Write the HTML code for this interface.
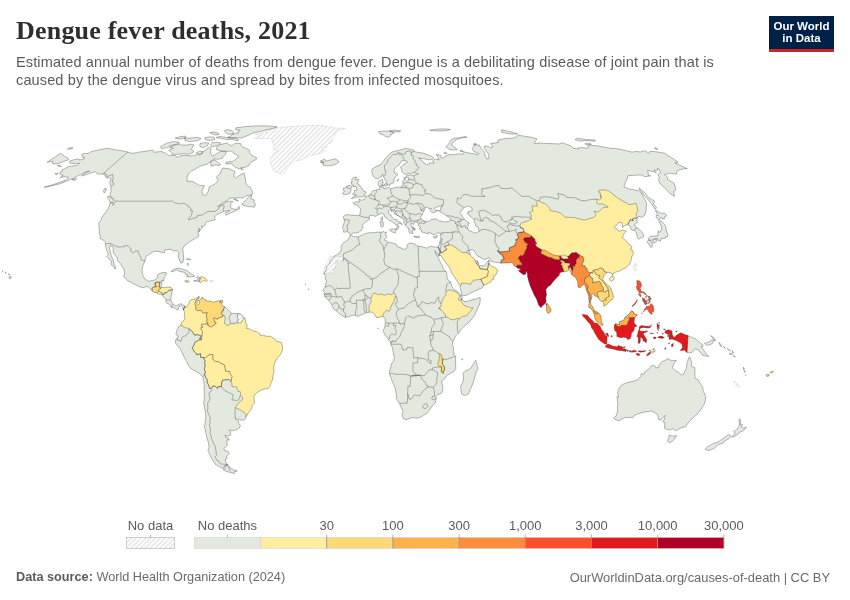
<!DOCTYPE html>
<html><head><meta charset="utf-8"><title>Dengue fever deaths, 2021</title>
<style>
html,body{margin:0;padding:0;background:#fff;}
body{width:850px;height:600px;position:relative;overflow:hidden;font-family:"Liberation Sans",sans-serif;color:#5b5b5b;}
.abs{position:absolute;white-space:nowrap;}
#title{left:16px;top:15.5px;font-family:"Liberation Serif",serif;font-weight:bold;font-size:26px;color:#2e2e2e;letter-spacing:0.2px;}
#sub{left:16px;top:52.7px;font-size:14.5px;line-height:18px;letter-spacing:0.135px;color:#5b5b5b;}
#logo{left:769px;top:16px;width:65px;height:33px;background:#002147;border-bottom:3px solid #ce261e;color:#fff;font-weight:bold;font-size:11.5px;line-height:11.5px;text-align:center;}
#logo span{display:block;}
.lg{font-size:13px;color:#5b5b5b;transform:translateX(-50%);top:518px;}
#src{left:16px;top:569.5px;font-size:12.7px;color:#6a6a6a;}
#src b{color:#5b5b5b;}
#url{right:20px;top:569.5px;font-size:12.9px;color:#6a6a6a;}
</style></head><body>
<svg width="850" height="600" viewBox="0 0 850 600" style="position:absolute;left:0;top:0">
<defs>
<pattern id="hatch" patternUnits="userSpaceOnUse" width="3.4" height="3.4" patternTransform="rotate(45)"><rect width="3.4" height="3.4" fill="#fff"/><line x1="0.8" y1="0" x2="0.8" y2="3.4" stroke="#e4e4e4" stroke-width="1.4"/></pattern>
<clipPath id="landclip"><path d="M107.3 148.3L113.1 149.4L118.5 150.2L123.9 151.1L127.8 152.0L132.6 153.5L137.3 152.4L145.2 151.3L151.5 150.2L152.6 150.0L154.2 152.2L161.6 151.5L166.2 153.5L168.4 155.5L175.8 155.7L177.4 157.7L181.1 155.5L186.2 155.5L192.6 155.9L197.4 154.4L200.2 155.1L202.6 152.2L209.7 147.0L211.2 148.9L210.3 152.0L211.2 153.9L212.7 156.4L216.1 154.2L220.6 151.5L226.3 151.7L225.5 154.4L222.8 156.6L222.6 158.2L218.4 159.3L214.0 158.9L210.7 161.6L207.2 164.1L201.2 165.8L197.8 167.4L192.9 170.5L191.0 171.4L188.4 174.0L187.2 176.9L187.0 181.3L192.3 181.3L196.5 183.7L199.4 185.4L204.4 185.7L201.8 191.1L202.6 194.2L203.0 195.4L206.2 194.9L208.4 191.1L209.2 186.9L215.6 183.7L218.2 180.5L216.4 176.9L219.9 174.0L222.3 168.3L223.3 168.1L229.2 168.8L232.1 170.2L235.0 171.6L233.5 176.4L235.6 177.9L241.2 174.3L244.2 173.3L245.4 178.8L245.7 182.5L247.3 185.7L250.5 187.4L251.6 189.9L253.0 193.1L250.8 194.9L246.6 195.7L242.8 197.9L234.8 197.9L229.7 198.2L226.9 200.5L223.1 202.5L217.6 206.6L222.5 204.3L227.6 201.2L233.0 201.5L230.8 203.8L230.4 206.3L231.3 208.4L236.1 209.6L239.1 206.3L239.6 208.9L232.2 212.2L226.1 215.3L225.3 213.2L229.7 210.4L225.3 211.2L224.0 211.4L220.5 213.2L216.9 214.5L214.7 216.8L214.5 217.6L215.3 219.7L212.5 220.5L207.2 221.7L205.8 222.8L205.1 225.1L202.7 226.9L201.8 225.6L201.9 228.2L199.1 231.9L199.1 228.2L198.2 232.1L198.7 236.6L195.7 238.1L192.3 240.2L189.2 242.1L184.4 245.7L182.7 249.1L183.4 254.3L183.7 258.8L182.6 262.7L180.7 263.2L179.6 260.4L178.1 256.2L179.0 253.0L177.3 250.7L176.0 250.4L173.6 251.2L171.4 249.4L168.0 249.4L164.6 249.9L164.6 252.8L161.8 252.5L158.7 251.5L154.7 251.2L152.3 252.3L149.1 254.3L146.0 256.4L145.0 261.0L142.7 266.1L142.0 270.5L142.5 274.5L144.4 278.4L146.9 280.2L148.1 281.3L151.9 280.5L154.2 280.2L156.9 278.4L158.1 274.5L158.4 273.9L162.7 272.6L166.1 272.6L166.3 274.5L164.3 277.3L163.4 281.0L162.3 280.5L161.8 282.8L161.7 285.7L159.9 287.3L160.5 287.8L162.6 287.3L166.5 287.3L168.8 287.1L171.1 287.4L172.7 289.6L171.6 293.5L171.1 296.7L170.7 300.1L172.1 302.7L173.2 304.0L175.4 305.7L177.7 305.0L180.1 303.9L182.3 304.1L184.8 306.1L183.4 310.0L182.6 307.6L181.1 305.5L179.2 306.6L178.0 307.4L178.6 309.2L176.5 309.7L175.2 308.4L173.7 307.4L172.0 307.6L170.7 306.6L170.3 305.3L168.1 303.5L167.2 303.7L165.7 301.6L166.1 299.8L164.2 297.4L162.3 295.1L162.6 294.3L160.1 294.3L157.2 293.3L156.6 292.7L154.1 292.4L152.0 290.8L148.5 287.0L146.5 286.5L142.5 287.8L139.2 286.5L135.1 284.6L131.1 282.3L127.5 280.7L125.8 278.6L123.6 276.5L124.6 273.4L124.1 269.5L122.1 266.4L119.9 263.0L117.7 260.9L117.2 258.0L115.4 255.6L113.4 253.0L113.1 248.3L113.0 247.0L110.2 245.7L109.5 247.8L110.5 253.0L111.4 256.2L113.2 260.1L114.1 264.0L114.9 265.6L116.0 267.9L114.8 269.0L114.3 267.4L111.0 264.5L111.4 260.9L109.0 258.8L106.5 256.2L108.6 254.3L106.4 250.4L105.7 246.0L105.5 243.9L105.6 242.6L103.9 240.5L102.5 239.6L100.1 238.7L100.4 236.8L99.3 233.2L99.4 230.1L99.0 228.8L98.9 225.4L98.7 223.3L101.3 219.7L101.9 217.1L105.3 212.7L108.4 208.4L110.3 202.7L113.4 203.2L112.9 205.5L114.7 203.0L115.1 201.2L114.8 200.5L113.1 198.2L110.0 196.4L110.1 194.2L111.1 191.1L110.8 187.9L111.2 186.7L110.4 185.0L109.7 182.5L111.2 178.8L109.5 177.6L106.9 178.4L105.7 177.2L104.7 175.0L102.9 174.0L98.3 174.0L96.5 173.1L95.3 171.6L89.8 173.3L86.7 174.5L81.4 175.9L85.4 172.8L89.5 171.2L86.2 171.6L81.7 174.0L78.0 175.7L74.0 178.1L67.2 180.8L60.3 183.7L54.8 185.0L48.1 186.7L44.1 187.2L49.2 185.7L54.8 184.0L61.0 181.8L65.7 180.1L68.7 177.4L67.3 176.9L64.0 176.9L60.3 177.4L63.2 175.2L60.3 174.5L59.5 172.8L62.5 171.2L61.5 170.2L66.2 167.9L68.6 166.7L73.4 165.8L76.3 165.5L79.6 163.2L76.4 163.4L72.8 163.4L69.9 163.0L69.9 160.9L74.5 159.6L78.9 158.9L79.1 159.8L82.0 159.8L84.8 158.0L82.5 157.5L83.5 156.2L82.2 155.3L81.4 154.6L83.9 153.5L88.4 153.3L91.8 151.5L96.7 150.4L101.6 149.4Z M235.4 143.2L240.6 143.6L241.1 145.1L242.7 147.2L246.7 148.5L249.6 150.4L249.7 152.8L251.1 154.8L256.4 157.7L256.4 159.3L250.5 162.3L248.9 165.5L245.4 167.2L240.6 167.9L243.3 169.5L239.2 168.8L234.8 166.9L231.3 163.7L225.9 163.9L226.0 162.3L233.7 161.1L235.9 158.9L239.0 156.6L236.7 154.8L233.5 153.3L231.7 151.1L226.6 151.3L222.0 150.9L216.9 150.0L216.2 147.8L219.8 144.7L226.9 143.0L228.2 144.2L231.7 145.7Z M169.1 150.0L171.9 152.8L172.0 154.4L179.0 154.2L184.7 153.5L187.2 154.4L192.8 152.8L193.6 151.1L191.1 149.4L192.9 146.8L194.0 144.9L190.7 144.2L186.6 145.1L181.8 145.1L180.6 144.0L174.6 145.1L169.5 147.4L173.4 148.3Z M160.5 146.8L161.7 148.5L166.6 147.8L170.6 145.7L178.7 143.6L178.9 142.2L173.4 141.5L166.6 143.2Z M227.6 137.5L231.5 138.1L236.5 137.7L240.7 138.1L245.2 136.5L250.5 134.2L253.4 132.7L260.4 131.4L267.9 129.5L273.2 128.3L277.3 126.9L270.0 126.0L260.6 125.8L250.5 126.3L242.9 126.9L236.1 127.8L235.4 129.5L240.2 130.2L237.7 131.8L238.6 132.9L232.8 134.2L230.8 135.9Z M227.6 129.5L231.3 130.5L233.8 132.7L233.0 134.0L228.3 134.2L225.5 132.3L224.4 130.9Z M216.2 137.5L221.9 138.5L225.5 139.5L231.9 139.3L238.1 140.9L238.0 139.3L234.8 137.9L227.4 137.7L223.7 136.9L219.6 136.5Z M184.2 138.1L185.4 140.7L190.6 141.5L198.1 140.5L201.0 138.7L197.5 137.3L190.3 138.1Z M204.8 137.5L205.4 139.5L210.5 140.5L214.7 139.5L214.2 137.3L210.1 136.9Z M200.1 143.6L199.8 146.3L203.2 147.8L207.6 145.7L208.7 143.0L204.4 142.6Z M212.3 142.6L210.6 145.1L211.5 146.8L217.5 145.5L220.7 142.8L217.2 142.4Z M196.2 152.8L198.4 154.2L202.3 153.5L202.5 151.3L199.2 151.3Z M210.7 161.6L211.1 166.2L215.6 164.8L218.5 165.8L220.7 164.6L219.1 163.4L216.3 161.1L214.4 160.0Z M175.1 138.1L179.0 139.1L186.0 137.9L185.6 136.1L180.2 136.7Z M209.7 132.7L214.3 134.8L219.0 134.6L218.0 133.0L213.4 132.1Z M242.1 204.8L248.3 206.6L252.3 206.8L254.3 207.1L255.5 204.8L254.0 202.2L254.2 199.9L250.9 198.9L251.8 194.9L248.6 196.9L245.3 200.7L242.5 203.2Z M107.2 196.7L109.3 200.2L110.2 202.5L112.9 202.7L113.4 200.7L112.2 198.4L109.0 196.4Z M104.6 188.4L106.7 188.9L104.4 193.1L103.4 191.6Z M71.9 179.6L75.0 180.5L76.6 178.8L75.2 178.6Z M233.6 199.2L237.8 201.0L238.5 200.7L235.4 199.2Z M170.9 271.6L173.2 269.5L176.1 268.5L179.7 268.2L183.4 269.5L186.7 270.5L188.7 272.1L191.5 273.9L194.6 275.8L194.3 276.4L191.1 276.8L186.6 276.9L187.9 275.0L185.5 274.7L184.9 272.4L182.2 272.0L178.0 270.8L177.3 269.8L174.7 270.8L173.0 271.6Z M193.5 280.9L195.9 281.3L198.4 281.3L199.6 281.6L200.1 277.3L197.7 276.8L196.3 277.2L197.5 278.4L198.2 280.2L195.7 280.3Z M187.7 263.0L188.0 265.6L188.2 265.3L187.9 263.0Z M188.5 259.0L189.9 260.1L190.5 259.6L188.9 258.5Z M186.3 259.0L188.2 259.6L188.3 259.0L186.6 258.8Z M60.6 153.3L63.0 155.1L64.9 156.6L67.6 157.7L68.7 159.8L64.5 161.1L59.0 163.2L56.3 163.9L52.2 163.7L52.9 161.4L49.6 161.8L47.2 162.3Z M69.7 147.8L72.9 147.8L72.3 148.7L67.5 149.1Z M57.3 165.5L59.1 166.5L61.2 166.5L59.8 165.3Z M55.0 173.6L56.6 174.5L58.2 173.3Z M8.9 277.2L9.7 278.9L11.4 277.9L11.0 276.5L9.6 275.9Z M8.1 274.2L9.6 274.7L9.1 273.9Z M5.0 272.5L6.1 273.2L5.7 272.1Z M2.0 271.1L2.8 271.5L2.8 270.8Z M184.8 306.1L186.1 307.9L187.3 305.5L189.0 304.0L189.4 301.4L190.9 299.8L192.5 299.3L194.8 299.3L197.2 297.7L198.4 296.3L199.3 296.7L199.2 298.0L197.8 299.5L198.4 300.6L199.8 300.1L201.7 298.8L202.3 296.9L202.9 298.8L205.8 299.5L206.2 301.1L210.8 301.1L213.4 302.4L215.1 301.6L218.1 300.8L220.6 300.8L219.0 302.2L221.2 303.2L222.7 306.3L225.2 307.1L228.1 309.7L230.3 312.3L231.2 313.3L234.0 313.4L238.4 313.5L240.9 314.7L243.3 317.0L243.8 318.0L245.2 318.6L245.8 323.1L247.4 326.2L246.4 328.3L249.0 328.8L250.8 329.6L252.0 330.6L256.6 331.7L260.1 334.0L260.6 335.9L262.9 335.1L267.0 336.4L270.5 336.2L274.0 338.5L277.0 341.3L281.4 342.4L282.5 347.3L282.5 350.0L280.7 354.1L277.8 357.5L274.6 362.8L273.6 367.5L274.1 371.9L272.9 375.8L272.5 380.0L271.4 381.8L270.1 385.5L270.1 386.3L268.0 388.8L265.3 388.8L262.0 389.7L258.6 391.5L255.2 394.1L253.9 396.7L254.3 400.9L254.2 403.5L252.4 405.3L251.5 408.5L249.9 411.1L248.2 412.9L246.0 417.0L245.4 418.7L243.2 420.1L240.4 420.0L236.7 418.8L235.2 417.6L235.5 419.2L238.5 421.0L238.7 423.4L240.4 425.2L239.3 428.1L237.0 429.6L232.4 430.7L229.5 430.1L230.3 432.0L230.7 434.8L227.9 436.2L224.9 435.3L225.6 437.1L228.8 438.7L229.4 440.2L227.4 439.7L226.7 441.0L227.4 445.1L225.4 446.7L224.0 448.7L224.2 450.0L228.2 451.6L229.1 453.6L226.6 456.4L227.1 458.7L225.0 459.7L226.2 462.9L228.1 464.8L226.1 465.2L223.9 466.5L224.1 468.7L220.1 467.2L215.5 464.5L213.6 461.4L210.5 456.4L208.3 451.3L207.9 450.3L209.1 447.5L208.3 442.3L206.9 437.9L206.0 433.3L204.9 428.1L204.1 426.0L204.9 424.7L205.1 421.5L205.8 416.3L205.8 415.0L204.9 409.8L204.5 406.9L203.6 403.3L204.3 399.3L204.4 395.4L204.2 390.5L204.2 386.3L203.8 381.6L202.9 376.9L200.2 374.3L197.5 372.4L193.9 370.3L191.0 368.8L188.2 365.1L186.8 361.5L185.9 360.3L184.4 357.5L183.1 354.9L182.1 352.6L180.8 350.0L178.8 346.8L176.4 344.5L175.9 344.0L175.3 341.0L176.2 339.0L177.6 337.7L178.4 335.9L177.5 335.6L176.1 334.8L175.9 334.5L176.5 331.4L177.0 329.8L177.9 328.8L178.1 327.0L180.5 325.9L180.9 325.0L180.9 324.1L181.9 322.0L184.0 320.2L185.2 318.6L184.1 317.0L184.7 314.4L184.3 311.3L183.4 310.0Z M228.0 465.6L229.1 466.5L231.2 468.4L234.0 469.9L236.7 470.5L236.9 471.4L234.2 471.9L234.1 473.8L232.4 472.9L229.2 472.2L225.8 471.2L223.3 469.9L224.8 468.9L225.8 467.7L224.7 466.0L226.3 465.2Z M350.0 235.3L351.3 235.0L354.1 236.8L356.2 236.6L358.0 237.1L360.6 235.5L361.4 235.5L364.9 233.7L369.2 232.7L373.5 232.7L377.9 232.1L381.3 232.3L383.9 231.4L385.0 232.7L386.5 231.9L385.7 233.7L385.7 235.3L386.9 236.8L384.8 239.2L384.6 240.2L386.8 241.0L388.1 242.2L391.7 242.8L396.2 244.2L397.1 246.5L401.4 248.1L404.8 249.6L406.9 248.1L407.0 244.9L409.9 242.8L413.5 243.6L418.2 246.1L422.3 246.8L426.8 248.2L428.7 247.3L431.1 246.2L434.0 247.0L438.2 247.0L440.2 251.7L439.4 255.6L439.2 256.3L437.6 254.9L435.3 251.2L434.9 250.6L435.1 252.3L437.0 255.6L438.2 257.7L440.1 261.7L442.6 266.1L443.2 268.7L446.1 271.3L446.9 273.9L447.1 277.6L447.9 279.9L450.5 281.8L452.2 287.0L452.9 288.0L454.4 289.6L456.9 290.9L459.8 294.3L461.5 295.6L462.0 297.4L462.1 298.8L460.9 298.5L462.0 298.9L463.8 301.5L466.1 301.6L469.5 300.8L471.8 299.8L475.2 299.3L479.2 297.6L480.3 297.8L480.1 301.6L479.5 304.5L477.8 307.9L475.6 313.1L473.4 317.0L468.9 322.5L467.3 323.6L464.3 326.2L460.8 329.8L458.7 333.1L457.1 334.5L455.5 336.1L454.2 339.4L453.1 341.1L452.1 344.5L453.2 346.6L453.6 349.7L453.3 352.3L454.2 354.9L455.6 356.1L455.6 361.5L455.6 366.7L456.0 368.0L454.0 371.4L449.3 374.0L446.7 375.6L445.0 378.2L441.8 380.7L441.9 383.7L442.9 386.3L442.7 391.0L441.4 393.1L437.9 394.6L435.8 396.6L436.3 398.9L435.1 403.3L433.4 404.6L431.5 406.9L429.4 410.3L426.2 414.0L423.9 415.0L420.7 417.1L418.9 417.6L416.2 418.2L411.9 417.6L406.3 419.7L403.1 418.5L403.0 417.4L402.0 414.2L403.1 411.6L401.1 407.2L399.5 403.5L396.7 399.1L396.2 394.1L395.4 388.6L393.1 383.4L391.1 378.4L389.5 373.9L389.7 370.6L390.4 368.5L391.4 363.8L393.5 361.2L394.4 357.5L393.1 351.8L392.2 347.1L390.9 344.5L390.4 341.9L388.3 339.1L384.9 335.1L383.1 330.6L384.2 328.5L384.9 326.2L385.4 322.8L385.1 318.6L383.3 316.9L382.3 316.4L378.9 317.3L376.6 317.6L374.3 314.2L372.7 312.3L370.6 312.1L369.0 312.2L366.4 312.6L365.5 312.9L364.8 313.6L362.3 314.3L358.1 316.4L355.6 315.5L353.5 315.1L348.9 316.5L345.5 317.4L342.0 315.7L337.9 312.3L336.3 310.8L334.0 309.5L332.4 306.6L332.2 305.3L331.3 304.0L329.2 301.4L328.3 300.1L326.1 298.0L324.5 296.5L324.3 294.6L324.5 292.7L322.8 290.4L325.1 287.0L325.6 284.4L326.4 281.5L325.3 278.1L326.0 276.0L324.2 274.5L324.3 272.9L326.0 270.0L326.7 266.9L329.3 264.3L330.3 260.6L332.8 258.3L333.8 256.4L337.1 254.6L340.1 252.3L341.3 249.4L341.1 246.5L343.0 243.4L346.1 241.0L347.9 240.0L349.3 237.4Z M475.8 360.2L477.5 366.7L478.1 369.0L476.1 371.9L475.1 375.8L473.3 382.4L470.8 388.4L468.5 393.9L464.8 395.5L461.6 394.1L461.0 389.9L460.6 386.3L463.2 381.1L463.6 377.1L463.0 373.2L465.2 371.1L468.4 369.8L471.3 367.7L472.6 364.9L474.6 362.0Z M461.9 358.6L462.5 359.9L462.0 359.9Z M308.4 288.8L309.1 289.4L308.8 289.9Z M305.1 284.1L305.8 284.1L305.6 284.6Z M377.8 327.8L378.3 328.3L377.8 328.8Z M438.2 247.0L438.9 245.7L439.4 243.1L439.7 242.3L440.3 240.2L441.0 238.3L440.4 235.3L440.7 234.8L441.0 233.2L439.7 233.2L437.5 232.7L435.7 234.4L433.1 234.5L429.7 232.5L428.8 232.5L428.5 234.0L425.6 232.9L423.6 232.7L421.9 232.1L421.2 229.8L419.4 228.8L420.4 228.2L419.9 226.2L418.4 225.6L418.5 224.2L417.8 222.5L415.7 222.0L414.4 222.0L413.2 223.0L414.4 224.0L413.4 224.5L412.5 223.8L411.3 223.0L410.8 224.3L411.8 226.2L411.7 227.2L413.1 228.2L414.5 229.5L414.4 230.5L413.2 229.5L412.7 231.1L412.0 230.8L412.9 233.6L411.4 233.7L409.6 232.7L408.6 230.3L409.3 228.8L408.0 228.6L407.0 227.2L405.8 225.4L405.4 225.1L403.9 223.3L403.9 220.5L403.6 219.4L401.6 218.0L399.4 216.6L397.0 215.3L394.3 213.5L393.6 211.4L392.5 210.7L391.5 211.9L390.8 210.1L391.0 209.6L389.7 209.6L388.1 210.7L388.6 211.7L388.3 213.2L390.9 215.0L392.5 217.9L394.5 219.4L396.9 219.4L396.3 220.5L398.7 221.5L400.9 222.7L402.1 224.0L401.8 224.9L400.8 223.7L399.0 223.0L398.1 224.3L398.0 225.4L399.4 226.9L398.3 227.5L398.2 228.5L397.3 229.7L396.4 229.5L396.8 228.0L397.4 226.9L396.4 224.6L395.3 224.3L394.4 223.3L393.4 222.8L392.6 222.1L391.5 221.2L389.3 220.6L388.5 219.8L387.1 218.4L385.8 217.9L384.7 216.7L384.2 215.3L383.8 214.0L383.1 213.9L381.2 213.0L379.6 214.3L378.4 214.5L377.2 215.5L375.3 216.4L373.9 215.8L372.1 215.5L370.9 215.3L369.2 216.3L369.3 218.0L369.5 219.4L367.4 220.8L364.6 222.5L362.1 225.6L363.2 227.6L361.7 228.8L361.2 230.5L358.7 232.3L358.0 232.8L355.2 232.9L353.2 232.9L351.2 234.4L350.6 234.8L349.1 233.4L348.9 232.4L346.8 231.6L345.5 232.1L343.4 232.1L343.9 229.5L343.0 228.5L342.4 227.6L342.9 225.9L343.8 223.8L344.5 221.4L344.0 219.4L343.3 216.6L346.1 214.6L350.2 215.0L354.8 215.3L359.0 215.7L359.6 215.3L360.3 212.3L360.5 210.0L360.3 208.5L358.5 206.6L358.3 205.7L357.0 205.0L354.0 204.3L353.0 202.9L355.7 201.7L358.7 202.1L359.5 202.1L358.9 199.4L360.1 199.4L360.5 200.3L363.0 199.9L365.0 198.8L365.9 196.9L366.4 196.3L367.8 195.9L369.4 195.2L370.1 194.2L370.8 193.6L371.8 192.4L372.1 191.3L373.3 190.6L376.2 190.2L376.8 189.4L378.3 189.4L379.4 189.7L380.1 188.9L379.4 187.8L379.3 186.4L378.3 184.8L378.1 182.3L379.0 181.0L381.4 179.8L382.7 179.5L382.5 182.5L383.5 182.7L382.2 183.5L382.0 185.7L381.1 186.6L382.1 187.5L384.1 187.7L383.9 188.7L386.2 188.3L388.7 187.2L390.4 188.9L394.1 187.9L398.1 186.7L398.9 187.7L400.7 187.5L401.3 186.3L403.3 185.4L403.0 183.6L402.6 181.8L403.5 179.9L405.3 179.5L406.9 181.2L408.2 181.2L408.6 179.2L408.6 178.0L406.6 177.4L406.4 175.9L408.6 175.3L410.8 175.0L414.6 175.3L416.2 174.3L418.4 174.1L415.6 173.1L413.7 172.7L408.8 173.7L405.2 174.4L403.5 173.1L401.8 171.6L401.8 170.2L401.1 168.3L400.5 166.9L402.7 165.3L405.8 163.0L407.3 162.3L406.7 160.9L404.7 160.5L401.4 160.9L400.2 162.8L399.9 164.1L398.8 165.3L396.2 166.9L394.9 168.1L394.1 170.0L394.2 172.4L396.8 173.6L397.7 174.7L396.3 175.7L395.4 177.2L394.1 178.8L393.8 181.3L393.3 183.2L391.0 183.4L390.0 185.2L387.7 185.2L387.0 183.7L386.5 182.3L385.2 179.8L383.6 176.7L383.4 176.2L382.5 174.3L381.9 176.4L379.6 177.6L377.8 178.6L375.9 178.8L373.4 176.7L372.3 174.0L371.9 171.6L371.8 169.3L374.4 167.6L377.0 166.0L380.1 165.1L381.3 163.4L383.7 161.1L384.8 158.9L386.7 157.1L388.2 155.5L389.7 153.7L391.9 152.2L394.3 151.3L397.5 150.7L400.6 149.8L404.9 148.6L408.6 148.9L411.3 149.6L414.0 150.4L412.7 151.7L414.0 151.5L417.9 152.4L423.1 153.1L430.8 155.9L433.6 158.2L432.0 159.6L428.6 159.8L423.1 158.6L419.6 158.4L418.5 157.5L420.7 159.6L423.8 162.3L424.1 163.4L427.4 164.6L429.5 163.9L429.5 162.8L433.2 163.2L434.1 163.3L432.5 161.1L435.2 158.9L439.1 160.0L438.3 157.7L436.1 154.2L440.8 155.5L441.3 157.7L442.7 158.2L445.3 156.2L448.9 154.6L453.2 154.8L455.5 154.2L459.6 153.9L463.2 154.4L464.0 152.8L462.8 151.5L471.1 153.5L473.8 153.7L477.8 154.8L478.7 153.5L474.1 151.5L472.2 148.9L473.6 146.8L473.9 144.9L479.3 145.1L481.2 148.5L484.5 152.2L485.0 155.5L487.3 159.3L489.2 158.2L488.3 155.5L488.4 153.7L486.3 151.1L484.0 147.8L484.4 146.1L487.7 146.1L490.6 147.8L493.0 146.8L490.6 143.6L498.3 142.6L497.7 140.3L503.8 138.7L512.3 138.1L515.4 137.5L518.1 135.1L522.4 135.9L530.8 137.1L537.0 138.9L534.9 141.5L534.9 143.6L540.5 143.0L543.4 143.4L550.7 143.6L559.2 144.0L562.3 142.8L570.9 145.7L573.3 148.3L578.5 149.1L578.5 147.8L583.1 147.6L587.2 148.3L589.0 147.2L587.5 145.7L588.5 145.1L597.8 145.9L606.7 147.6L610.0 148.3L617.2 148.7L626.6 150.7L632.2 152.2L635.4 151.5L641.0 152.0L641.9 151.1L645.2 150.9L648.9 153.3L650.0 151.3L655.7 151.7L664.9 153.3L678.3 162.3L676.9 162.8L674.9 163.0L682.5 166.5L687.2 168.6L685.7 168.6L681.8 169.3L679.1 170.0L676.7 171.6L676.8 174.1L669.7 173.3L666.8 174.0L664.6 174.5L667.9 177.6L667.4 179.3L674.1 183.2L674.9 186.2L675.8 187.4L675.4 190.4L673.6 191.4L674.6 196.4L669.9 193.6L665.6 188.7L660.1 183.7L658.3 179.6L659.5 178.1L658.2 174.5L660.5 172.6L659.2 170.0L657.8 168.1L657.7 170.2L653.8 170.0L656.3 172.6L647.7 170.2L648.5 175.2L650.6 175.9L644.5 176.7L641.9 175.1L638.4 175.0L632.4 175.5L628.0 175.7L627.0 179.3L625.3 182.5L623.9 186.7L629.4 189.2L632.5 189.4L637.1 190.6L638.6 190.4L641.4 193.1L644.2 198.7L646.6 202.5L646.4 207.3L645.7 212.5L644.6 215.5L641.5 217.4L638.6 216.3L637.3 218.4L636.8 220.7L637.5 222.3L634.4 224.9L634.9 226.2L637.7 228.0L641.9 232.1L643.3 234.8L643.7 236.6L643.3 237.1L640.8 237.9L638.7 239.2L637.4 237.1L636.2 233.4L636.3 232.1L635.1 230.6L632.2 230.3L630.8 229.3L630.7 227.7L629.4 225.4L627.5 224.6L624.9 225.4L622.3 227.5L622.4 225.6L621.9 222.8L619.0 222.1L617.2 224.6L614.7 226.4L614.6 227.5L618.0 229.8L619.1 231.4L622.2 230.1L626.5 231.1L624.2 233.2L623.4 234.8L622.3 237.4L625.7 240.5L628.2 243.6L631.3 246.0L632.0 248.1L630.1 249.6L632.9 250.7L633.4 254.3L631.9 256.2L630.9 260.9L629.5 264.3L628.1 265.3L625.7 267.9L622.0 269.5L620.6 270.5L619.1 271.1L615.9 272.1L612.7 273.7L612.8 275.5L611.0 272.9L608.0 272.1L606.9 272.6L604.5 274.5L603.0 277.9L602.9 279.9L605.1 282.6L607.8 285.4L609.8 286.7L611.9 290.9L613.1 294.8L613.4 297.7L612.6 299.3L609.1 301.6L607.9 303.5L605.3 305.5L603.8 306.3L603.6 303.2L602.7 301.6L600.6 301.1L599.0 298.8L598.8 298.2L597.0 296.7L594.2 295.6L593.7 293.7L591.7 294.1L591.9 297.4L590.5 301.4L591.0 304.8L592.7 306.6L593.8 309.7L595.3 310.8L597.9 312.6L600.1 314.4L601.2 317.0L601.2 319.7L601.5 322.0L603.2 325.1L601.6 325.4L599.2 323.3L596.4 321.2L594.9 318.3L594.0 314.7L593.5 312.1L592.0 310.0L590.3 307.9L588.9 307.9L588.7 305.3L589.3 302.7L588.7 298.8L588.7 296.1L587.4 292.7L586.2 289.6L585.3 285.7L583.5 284.4L582.1 285.7L580.3 287.7L577.9 287.0L577.9 283.1L577.0 279.9L575.0 277.1L573.3 276.0L571.7 274.7L570.0 270.5L568.1 270.0L567.2 271.3L564.1 271.8L561.6 272.1L559.5 272.9L559.3 275.2L557.3 277.1L555.5 278.9L552.3 282.6L550.3 285.4L548.2 286.2L547.4 287.5L545.8 289.6L546.3 293.5L546.6 294.6L545.8 297.7L546.1 301.9L544.3 304.5L542.5 305.5L541.2 307.7L538.9 305.5L537.8 302.7L536.7 299.3L534.2 295.1L532.1 290.1L531.2 288.3L529.7 284.4L528.2 279.3L527.5 276.5L527.5 273.7L526.8 272.1L526.0 270.8L525.9 273.9L523.3 274.7L519.1 271.3L518.5 270.5L521.3 269.0L517.8 268.2L516.3 266.9L514.4 266.1L513.3 264.0L511.9 262.4L507.5 263.0L503.0 263.0L501.0 263.2L498.5 262.7L494.6 262.2L491.2 261.4L489.9 258.3L488.5 257.9L485.1 259.3L482.4 259.0L479.9 257.0L477.3 255.9L475.7 253.3L473.7 250.2L471.2 249.4L470.3 250.6L469.1 250.4L469.1 251.5L470.0 254.1L471.6 256.7L474.1 258.8L475.0 260.4L475.3 262.2L476.9 264.1L476.8 261.9L477.4 260.6L478.5 262.7L478.7 264.5L478.3 264.8L478.8 265.6L481.1 265.6L484.2 265.8L485.3 264.8L486.8 262.7L488.3 260.7L489.0 260.0L489.1 261.9L489.4 263.7L490.5 265.3L492.7 266.8L494.7 267.1L497.7 270.0L496.8 272.9L495.3 275.5L493.7 276.0L493.8 279.2L492.2 279.4L490.8 282.0L488.4 283.1L486.0 284.4L483.8 285.3L481.9 288.0L479.2 289.2L475.0 290.9L472.6 292.2L469.2 293.8L465.8 295.4L462.4 295.8L461.7 294.1L460.8 290.1L460.2 287.8L460.3 286.0L458.3 282.6L456.3 279.9L454.6 277.1L451.4 272.6L450.5 269.2L448.2 265.8L446.2 263.0L444.7 260.9L442.2 257.5L440.7 255.4L439.8 255.4L440.3 251.7Z M351.3 198.6L354.4 197.8L356.0 197.2L358.8 197.2L360.8 196.8L363.3 196.8L365.5 195.8L364.7 195.3L363.9 194.9L365.9 193.4L366.1 191.9L363.5 191.1L362.9 189.9L362.4 188.4L360.4 187.2L359.9 185.7L358.9 184.2L357.0 183.7L357.8 182.5L359.0 179.6L356.2 179.6L355.0 179.8L357.0 177.4L353.4 177.4L351.8 179.8L352.1 182.5L351.0 182.0L352.0 185.4L353.5 185.0L353.3 186.9L356.0 186.4L356.9 188.7L356.7 190.2L354.2 190.4L354.7 192.4L352.5 193.9L355.0 194.7L356.8 195.2L354.2 195.9L352.6 197.7Z M342.8 194.2L345.9 194.7L350.1 193.1L351.0 190.2L350.7 188.7L352.1 187.4L350.8 185.7L348.5 185.4L346.8 185.9L346.1 187.9L343.4 188.2L343.4 190.2L344.6 190.9L343.9 192.1L342.4 193.4Z M320.2 161.1L324.7 159.1L325.8 161.1L331.2 159.8L334.8 158.9L337.4 160.0L338.9 162.1L336.4 163.9L330.7 165.8L326.6 165.8L322.7 164.9L324.1 163.7L320.6 162.5L324.2 162.1Z M378.4 131.8L382.9 131.2L387.1 130.9L391.7 131.8L394.2 133.0L390.8 134.0L390.8 135.5L388.5 137.3L385.3 136.5L383.3 134.9L379.6 133.4Z M389.3 130.9L394.1 130.2L400.7 130.7L399.7 131.9L392.4 131.9Z M446.5 147.6L449.9 149.6L454.1 149.8L457.3 149.6L455.1 147.6L451.6 145.1L452.0 143.0L454.2 141.3L456.8 139.5L461.8 137.9L467.1 137.3L465.2 136.5L460.1 137.7L454.4 138.3L450.9 139.9L449.4 142.6L448.2 144.7L446.3 146.3Z M429.7 130.2L436.2 129.3L444.3 128.8L450.5 129.5L445.8 130.7L437.4 131.1Z M501.5 132.3L501.9 129.8L512.1 132.1L517.6 134.0L510.2 134.0L505.3 133.0Z M575.1 139.7L576.7 138.3L586.4 139.5L595.1 140.1L595.2 141.1L585.2 140.7L579.6 141.1Z M584.8 143.8L590.4 143.6L591.3 144.4L586.8 144.4Z M654.3 148.3L655.8 147.8L658.0 149.1L656.4 149.4Z M639.3 187.9L644.5 192.4L648.7 197.4L654.8 201.5L653.2 204.0L656.3 206.8L655.9 208.9L654.5 208.6L651.8 204.3L648.4 199.9L643.3 194.4L639.7 189.9Z M655.4 210.1L660.8 213.2L664.5 213.2L666.9 215.8L664.3 216.8L664.3 219.2L660.2 217.6L658.8 220.5L656.2 217.4L656.1 215.5L658.2 215.3L656.0 211.7Z M660.1 220.5L662.6 222.5L665.4 225.4L666.2 228.8L666.2 230.8L668.0 234.8L667.5 236.8L666.0 236.1L665.5 238.1L663.9 238.4L661.3 238.4L661.2 239.2L660.4 241.3L658.2 240.2L657.6 238.4L653.9 238.9L651.6 240.2L648.7 240.0L648.3 238.7L650.5 236.3L653.7 236.1L657.7 235.8L658.0 232.9L658.3 230.8L659.3 232.4L661.0 231.1L661.8 229.0L661.0 225.1L659.4 222.8L659.3 221.2Z M648.8 240.2L650.9 241.0L652.3 243.4L652.0 247.0L651.1 247.6L649.8 246.5L648.7 243.6L647.1 242.6L647.3 241.3Z M652.4 241.0L654.8 239.1L656.9 239.7L656.6 241.5L655.0 243.1L653.4 242.8Z M389.5 229.8L391.3 229.0L396.2 228.9L395.5 231.4L395.4 232.9L393.6 232.5L389.9 230.6Z M380.1 222.0L382.2 221.1L383.4 223.0L383.2 226.4L382.0 226.9L380.7 226.7L380.6 223.6Z M380.8 218.1L382.4 216.6L382.7 218.9L382.2 220.7L381.1 219.9Z M413.9 235.9L415.5 236.4L418.6 236.4L419.9 236.8L418.5 237.5L416.5 237.5L414.0 236.7Z M433.0 237.2L434.4 236.4L437.7 235.7L436.7 237.4L434.7 238.4Z M412.3 227.1L414.6 228.2L415.5 229.5L414.5 229.0L412.8 227.7Z M384.0 184.5L386.2 183.5L386.9 184.7L386.1 186.2L384.3 185.7Z M381.6 185.0L383.3 185.0L383.4 186.1L382.0 185.9Z M396.9 180.5L398.5 179.1L398.3 180.5L397.4 181.4Z M403.7 177.9L405.7 177.4L405.7 178.4L404.2 178.8Z M443.7 153.1L445.3 152.2L447.2 153.3L445.3 153.9Z M459.8 151.1L460.8 150.0L463.1 151.1L461.8 151.7Z M473.3 144.0L476.2 143.6L476.1 144.7Z M475.7 260.4L476.2 260.4L476.1 261.3Z M619.4 387.6L620.8 385.8L624.1 383.7L627.2 382.6L630.5 381.8L634.1 381.1L637.4 380.0L640.9 376.1L641.0 373.7L644.1 374.3L644.5 371.9L648.6 369.3L651.1 365.9L654.4 365.4L655.7 367.7L658.9 367.7L658.8 365.4L661.0 362.8L662.5 361.2L665.1 360.7L667.0 358.6L668.9 359.6L672.7 360.7L676.4 360.2L674.1 363.5L672.4 367.7L674.9 370.3L679.4 373.0L681.3 375.0L683.5 374.3L686.3 368.0L687.1 362.5L688.9 357.5L689.9 356.8L691.5 362.2L691.5 366.4L694.8 367.7L694.9 373.0L695.0 378.2L697.9 379.5L700.4 383.7L703.0 387.8L702.9 390.2L705.8 396.5L705.4 400.4L704.2 404.3L700.6 409.8L697.9 413.4L693.4 417.4L688.2 422.8L685.4 426.8L681.2 427.8L675.3 430.9L673.2 428.6L669.8 430.1L666.1 429.1L664.3 428.1L665.0 422.8L662.5 421.8L664.4 419.5L665.0 415.3L660.9 420.0L658.8 419.5L658.3 417.1L657.3 414.2L654.3 412.4L651.8 411.1L646.7 411.6L640.0 413.2L634.6 415.0L632.8 417.4L629.1 417.4L624.6 417.6L619.4 420.5L616.4 420.2L613.6 418.4L616.1 415.8L617.6 411.6L617.5 407.2L617.8 403.3L617.5 400.1L616.8 396.7L618.5 397.0L617.7 392.5Z M669.4 435.1L672.6 436.1L676.7 435.6L674.5 439.0L671.9 441.5L668.9 442.6L667.4 440.8L668.7 437.9Z M739.4 418.7L740.8 420.8L740.2 424.9L742.6 424.4L741.4 427.0L743.3 428.1L746.6 427.3L742.6 431.2L740.3 431.7L738.4 434.0L732.5 437.4L731.8 436.6L735.2 433.5L734.4 432.5L733.5 431.7L736.5 429.9L738.9 426.5L739.5 423.9L739.0 420.8Z M729.1 434.6L731.2 436.4L728.3 439.0L723.7 441.8L722.9 443.3L718.5 444.4L713.9 448.5L709.5 450.3L707.5 450.3L705.0 449.2L707.9 446.4L712.7 443.9L719.5 441.0L723.8 437.9L727.1 435.6Z M665.1 330.9L668.3 329.8L672.0 330.9L672.3 335.1L674.1 337.4L677.2 334.8L680.9 332.7L685.3 334.8L688.0 335.6L691.8 337.4L695.9 339.0L698.8 341.9L702.5 344.5L703.1 346.3L701.2 346.6L703.7 350.0L706.9 354.7L708.7 356.5L706.7 356.2L702.5 355.2L698.6 350.0L695.7 348.7L693.8 349.7L692.2 352.3L689.4 352.8L686.9 352.6L684.4 350.0L680.2 350.7L682.5 347.6L682.0 344.5L680.7 342.9L676.2 340.6L671.9 339.0L669.1 339.5L669.0 336.6L667.0 336.1L671.0 334.5L668.0 334.5L664.8 332.5Z M704.4 343.4L708.9 341.9L712.0 339.8L713.8 340.0L712.7 343.2L710.1 344.7L706.6 345.3Z M710.4 335.6L713.7 337.7L715.7 340.6L714.7 340.8L712.6 337.4Z M719.0 342.4L720.9 344.7L721.7 346.6L720.1 345.8Z M723.1 346.3L725.3 347.9L725.0 348.4Z M729.6 353.1L731.4 353.4L732.2 354.4L729.9 354.4Z M732.2 350.5L733.5 353.1L732.8 353.4Z M733.2 355.4L735.4 356.5L734.2 357.0Z M727.1 348.4L730.3 350.7L729.8 351.0Z M743.5 367.2L744.5 369.3L743.5 369.6Z M744.2 370.6L745.4 371.6L744.3 372.2Z M745.6 374.8L746.1 375.3L745.4 375.3Z M184.7 280.9L185.7 280.5L188.0 280.7L189.4 281.8L187.8 282.2L185.8 282.2Z M199.6 281.6L200.3 282.8L202.5 281.3L203.9 280.7L206.6 281.3L207.4 280.2L206.1 278.9L204.2 277.6L201.8 276.8L200.1 277.3Z M220.6 300.8L222.7 300.6L222.6 302.4L220.6 302.5Z M609.5 278.6L611.2 276.5L613.4 276.4L614.5 277.6L613.6 279.9L611.7 281.3L609.7 280.2Z M546.1 303.7L547.3 303.5L549.5 306.6L551.1 309.7L550.7 312.1L548.4 313.3L547.0 312.6L546.3 308.9L546.5 306.6Z M766.3 374.5L768.9 374.3L769.2 375.8L767.2 376.6L766.0 375.8Z M770.0 372.4L773.3 371.1L772.8 372.2L770.5 373.2Z M582.3 314.2L587.4 315.2L589.4 317.8L593.2 321.2L594.4 323.1L597.2 323.3L600.4 326.7L601.6 329.8L603.9 332.2L604.8 334.8L607.2 336.4L606.9 340.0L606.7 344.0L605.1 344.2L603.7 343.2L600.8 341.3L598.6 339.3L596.6 336.1L594.6 332.7L593.5 330.1L591.7 328.3L590.5 324.4L588.1 322.0L585.7 319.1L582.9 316.3Z M605.0 346.6L607.2 344.2L609.2 344.3L612.6 346.0L616.9 346.8L618.1 345.5L622.0 346.8L622.8 348.7L626.2 348.9L625.8 351.5L622.0 350.7L617.4 350.2L612.9 348.9L607.9 348.1Z M622.2 347.1L625.4 346.8L624.9 347.6L622.4 347.6Z M605.5 333.5L607.6 333.0L608.8 336.6L606.8 335.6Z M611.0 335.6L612.6 336.1L611.6 337.2Z M614.3 324.9L615.8 323.6L619.3 324.9L619.7 321.7L623.4 320.4L625.5 316.8L628.9 314.4L631.4 310.8L633.8 312.1L633.7 313.6L637.4 315.0L635.0 317.3L634.4 319.1L634.1 323.1L637.1 326.2L634.6 326.7L633.9 330.6L631.6 333.0L631.0 336.6L630.2 338.7L627.2 339.5L626.8 337.7L623.4 337.2L620.6 337.7L616.9 336.4L616.8 332.7L614.5 330.1L614.3 328.0Z M639.2 326.7L641.5 325.4L646.4 326.3L650.0 326.2L651.6 324.6L650.1 327.8L647.3 328.0L643.1 327.5L639.9 328.5L639.7 330.9L642.2 331.2L644.7 331.2L647.3 330.9L647.5 331.4L644.2 333.0L643.1 333.8L645.3 337.2L646.8 339.8L646.2 342.9L644.4 341.3L642.8 340.8L643.1 339.3L641.5 337.9L640.5 336.4L640.3 340.8L639.9 343.2L638.1 343.2L638.2 339.8L638.3 337.9L636.8 336.1L637.8 334.0L638.0 331.9L639.2 329.1Z M657.1 323.1L658.1 325.1L659.7 324.9L658.6 327.2L659.8 328.0L657.9 328.8L658.8 330.9L657.7 329.8L657.0 326.2Z M657.7 336.9L661.5 336.1L664.4 337.7L662.5 338.2L658.4 337.9Z M653.3 337.2L655.7 337.0L656.1 338.2L654.4 338.9L653.3 337.9Z M626.2 350.0L628.7 350.2L627.6 351.8Z M629.3 350.7L631.0 350.5L630.6 352.1L629.2 351.8Z M631.4 351.0L634.2 350.2L636.7 351.0L636.1 351.8L633.6 352.1L631.3 352.3Z M638.5 350.7L642.2 351.0L645.7 350.5L645.1 351.5L640.9 352.2L638.4 351.8Z M636.2 353.6L638.5 353.4L640.2 354.9L638.3 355.7L636.2 354.4Z M646.4 355.7L647.7 353.4L650.2 352.1L650.2 353.6L648.5 355.2Z M650.2 352.1L650.4 351.3L655.5 350.7L654.5 351.8L650.2 353.6Z M648.9 350.2L650.5 350.2L649.3 350.9Z M652.5 348.9L654.5 348.9L653.3 349.6Z M664.5 348.4L665.9 347.6L665.5 349.7Z M671.6 344.5L673.3 343.4L672.7 346.6L671.7 346.6Z M668.7 342.9L669.4 342.9L668.9 344.2Z M675.7 330.9L677.3 331.4L676.3 331.9Z M658.5 322.5L659.4 322.5L659.2 323.6Z M649.8 333.2L653.5 333.5L652.1 333.9Z M656.7 332.5L658.1 332.7L657.4 333.2Z M662.0 333.5L663.6 333.8L662.7 334.2Z M663.5 329.1L665.5 329.3L664.4 329.7Z M636.8 280.5L639.9 281.0L641.2 283.6L641.4 286.2L640.1 288.0L641.1 291.4L643.1 291.7L644.9 292.7L647.1 295.9L646.6 295.1L644.4 294.1L642.6 292.5L640.8 293.0L638.9 292.5L638.5 290.9L637.2 290.1L636.2 286.5L637.2 285.4L636.8 282.8Z M638.4 293.8L640.2 293.8L641.1 295.9L640.4 296.9L639.5 295.6Z M632.3 306.9L634.9 304.5L636.7 301.9L637.4 299.3L636.4 301.1L634.6 303.2L632.4 305.5Z M642.3 297.7L645.1 298.8L644.3 301.4L642.9 301.4Z M644.8 300.3L646.2 300.6L646.2 305.0L644.8 304.2L643.9 302.9Z M646.3 304.0L647.3 299.5L646.8 301.9Z M647.2 303.2L648.7 302.4L648.8 303.5Z M647.9 299.0L649.6 299.3L650.3 302.2L649.4 302.7L648.8 300.6Z M647.6 296.1L649.9 296.4L651.2 299.5L649.6 299.3L649.0 298.2Z M645.3 296.4L647.0 296.9L646.2 297.6Z M643.6 310.5L645.3 308.2L646.5 306.3L649.5 306.3L650.9 303.5L653.1 305.5L653.9 309.7L653.4 312.3L651.7 311.0L652.3 314.2L651.2 314.2L648.8 312.1L648.2 309.7L646.7 309.2L644.7 310.3Z M643.2 311.6L644.4 311.6L643.7 312.1Z M641.2 313.1L642.4 313.1L641.7 313.5Z"/></clipPath>
</defs>
<g stroke="#333" stroke-opacity="0.7" stroke-width="0.5" stroke-linejoin="round">
<path d="M107.3 148.3L113.1 149.4L118.5 150.2L123.9 151.1L127.8 152.0L132.6 153.5L137.3 152.4L145.2 151.3L151.5 150.2L152.6 150.0L154.2 152.2L161.6 151.5L166.2 153.5L168.4 155.5L175.8 155.7L177.4 157.7L181.1 155.5L186.2 155.5L192.6 155.9L197.4 154.4L200.2 155.1L202.6 152.2L209.7 147.0L211.2 148.9L210.3 152.0L211.2 153.9L212.7 156.4L216.1 154.2L220.6 151.5L226.3 151.7L225.5 154.4L222.8 156.6L222.6 158.2L218.4 159.3L214.0 158.9L210.7 161.6L207.2 164.1L201.2 165.8L197.8 167.4L192.9 170.5L191.0 171.4L188.4 174.0L187.2 176.9L187.0 181.3L192.3 181.3L196.5 183.7L199.4 185.4L204.4 185.7L201.8 191.1L202.6 194.2L203.0 195.4L206.2 194.9L208.4 191.1L209.2 186.9L215.6 183.7L218.2 180.5L216.4 176.9L219.9 174.0L222.3 168.3L223.3 168.1L229.2 168.8L232.1 170.2L235.0 171.6L233.5 176.4L235.6 177.9L241.2 174.3L244.2 173.3L245.4 178.8L245.7 182.5L247.3 185.7L250.5 187.4L251.6 189.9L253.0 193.1L250.8 194.9L246.6 195.7L242.8 197.9L234.8 197.9L229.7 198.2L226.9 200.5L223.1 202.5L217.6 206.6L222.5 204.3L227.6 201.2L233.0 201.5L230.8 203.8L230.4 206.3L231.3 208.4L236.1 209.6L239.1 206.3L239.6 208.9L232.2 212.2L226.1 215.3L225.3 213.2L229.7 210.4L225.3 211.2L224.0 211.4L220.5 213.2L216.9 214.5L214.7 216.8L214.5 217.6L215.3 219.7L212.5 220.5L207.2 221.7L205.8 222.8L205.1 225.1L202.7 226.9L201.8 225.6L201.9 228.2L199.1 231.9L199.1 228.2L198.2 232.1L198.7 236.6L195.7 238.1L192.3 240.2L189.2 242.1L184.4 245.7L182.7 249.1L183.4 254.3L183.7 258.8L182.6 262.7L180.7 263.2L179.6 260.4L178.1 256.2L179.0 253.0L177.3 250.7L176.0 250.4L173.6 251.2L171.4 249.4L168.0 249.4L164.6 249.9L164.6 252.8L161.8 252.5L158.7 251.5L154.7 251.2L152.3 252.3L149.1 254.3L146.0 256.4L145.0 261.0L142.7 266.1L142.0 270.5L142.5 274.5L144.4 278.4L146.9 280.2L148.1 281.3L151.9 280.5L154.2 280.2L156.9 278.4L158.1 274.5L158.4 273.9L162.7 272.6L166.1 272.6L166.3 274.5L164.3 277.3L163.4 281.0L162.3 280.5L161.8 282.8L161.7 285.7L159.9 287.3L160.5 287.8L162.6 287.3L166.5 287.3L168.8 287.1L171.1 287.4L172.7 289.6L171.6 293.5L171.1 296.7L170.7 300.1L172.1 302.7L173.2 304.0L175.4 305.7L177.7 305.0L180.1 303.9L182.3 304.1L184.8 306.1L183.4 310.0L182.6 307.6L181.1 305.5L179.2 306.6L178.0 307.4L178.6 309.2L176.5 309.7L175.2 308.4L173.7 307.4L172.0 307.6L170.7 306.6L170.3 305.3L168.1 303.5L167.2 303.7L165.7 301.6L166.1 299.8L164.2 297.4L162.3 295.1L162.6 294.3L160.1 294.3L157.2 293.3L156.6 292.7L154.1 292.4L152.0 290.8L148.5 287.0L146.5 286.5L142.5 287.8L139.2 286.5L135.1 284.6L131.1 282.3L127.5 280.7L125.8 278.6L123.6 276.5L124.6 273.4L124.1 269.5L122.1 266.4L119.9 263.0L117.7 260.9L117.2 258.0L115.4 255.6L113.4 253.0L113.1 248.3L113.0 247.0L110.2 245.7L109.5 247.8L110.5 253.0L111.4 256.2L113.2 260.1L114.1 264.0L114.9 265.6L116.0 267.9L114.8 269.0L114.3 267.4L111.0 264.5L111.4 260.9L109.0 258.8L106.5 256.2L108.6 254.3L106.4 250.4L105.7 246.0L105.5 243.9L105.6 242.6L103.9 240.5L102.5 239.6L100.1 238.7L100.4 236.8L99.3 233.2L99.4 230.1L99.0 228.8L98.9 225.4L98.7 223.3L101.3 219.7L101.9 217.1L105.3 212.7L108.4 208.4L110.3 202.7L113.4 203.2L112.9 205.5L114.7 203.0L115.1 201.2L114.8 200.5L113.1 198.2L110.0 196.4L110.1 194.2L111.1 191.1L110.8 187.9L111.2 186.7L110.4 185.0L109.7 182.5L111.2 178.8L109.5 177.6L106.9 178.4L105.7 177.2L104.7 175.0L102.9 174.0L98.3 174.0L96.5 173.1L95.3 171.6L89.8 173.3L86.7 174.5L81.4 175.9L85.4 172.8L89.5 171.2L86.2 171.6L81.7 174.0L78.0 175.7L74.0 178.1L67.2 180.8L60.3 183.7L54.8 185.0L48.1 186.7L44.1 187.2L49.2 185.7L54.8 184.0L61.0 181.8L65.7 180.1L68.7 177.4L67.3 176.9L64.0 176.9L60.3 177.4L63.2 175.2L60.3 174.5L59.5 172.8L62.5 171.2L61.5 170.2L66.2 167.9L68.6 166.7L73.4 165.8L76.3 165.5L79.6 163.2L76.4 163.4L72.8 163.4L69.9 163.0L69.9 160.9L74.5 159.6L78.9 158.9L79.1 159.8L82.0 159.8L84.8 158.0L82.5 157.5L83.5 156.2L82.2 155.3L81.4 154.6L83.9 153.5L88.4 153.3L91.8 151.5L96.7 150.4L101.6 149.4Z M235.4 143.2L240.6 143.6L241.1 145.1L242.7 147.2L246.7 148.5L249.6 150.4L249.7 152.8L251.1 154.8L256.4 157.7L256.4 159.3L250.5 162.3L248.9 165.5L245.4 167.2L240.6 167.9L243.3 169.5L239.2 168.8L234.8 166.9L231.3 163.7L225.9 163.9L226.0 162.3L233.7 161.1L235.9 158.9L239.0 156.6L236.7 154.8L233.5 153.3L231.7 151.1L226.6 151.3L222.0 150.9L216.9 150.0L216.2 147.8L219.8 144.7L226.9 143.0L228.2 144.2L231.7 145.7Z M169.1 150.0L171.9 152.8L172.0 154.4L179.0 154.2L184.7 153.5L187.2 154.4L192.8 152.8L193.6 151.1L191.1 149.4L192.9 146.8L194.0 144.9L190.7 144.2L186.6 145.1L181.8 145.1L180.6 144.0L174.6 145.1L169.5 147.4L173.4 148.3Z M160.5 146.8L161.7 148.5L166.6 147.8L170.6 145.7L178.7 143.6L178.9 142.2L173.4 141.5L166.6 143.2Z M227.6 137.5L231.5 138.1L236.5 137.7L240.7 138.1L245.2 136.5L250.5 134.2L253.4 132.7L260.4 131.4L267.9 129.5L273.2 128.3L277.3 126.9L270.0 126.0L260.6 125.8L250.5 126.3L242.9 126.9L236.1 127.8L235.4 129.5L240.2 130.2L237.7 131.8L238.6 132.9L232.8 134.2L230.8 135.9Z M227.6 129.5L231.3 130.5L233.8 132.7L233.0 134.0L228.3 134.2L225.5 132.3L224.4 130.9Z M216.2 137.5L221.9 138.5L225.5 139.5L231.9 139.3L238.1 140.9L238.0 139.3L234.8 137.9L227.4 137.7L223.7 136.9L219.6 136.5Z M184.2 138.1L185.4 140.7L190.6 141.5L198.1 140.5L201.0 138.7L197.5 137.3L190.3 138.1Z M204.8 137.5L205.4 139.5L210.5 140.5L214.7 139.5L214.2 137.3L210.1 136.9Z M200.1 143.6L199.8 146.3L203.2 147.8L207.6 145.7L208.7 143.0L204.4 142.6Z M212.3 142.6L210.6 145.1L211.5 146.8L217.5 145.5L220.7 142.8L217.2 142.4Z M196.2 152.8L198.4 154.2L202.3 153.5L202.5 151.3L199.2 151.3Z M210.7 161.6L211.1 166.2L215.6 164.8L218.5 165.8L220.7 164.6L219.1 163.4L216.3 161.1L214.4 160.0Z M175.1 138.1L179.0 139.1L186.0 137.9L185.6 136.1L180.2 136.7Z M209.7 132.7L214.3 134.8L219.0 134.6L218.0 133.0L213.4 132.1Z M242.1 204.8L248.3 206.6L252.3 206.8L254.3 207.1L255.5 204.8L254.0 202.2L254.2 199.9L250.9 198.9L251.8 194.9L248.6 196.9L245.3 200.7L242.5 203.2Z M107.2 196.7L109.3 200.2L110.2 202.5L112.9 202.7L113.4 200.7L112.2 198.4L109.0 196.4Z M104.6 188.4L106.7 188.9L104.4 193.1L103.4 191.6Z M71.9 179.6L75.0 180.5L76.6 178.8L75.2 178.6Z M233.6 199.2L237.8 201.0L238.5 200.7L235.4 199.2Z M170.9 271.6L173.2 269.5L176.1 268.5L179.7 268.2L183.4 269.5L186.7 270.5L188.7 272.1L191.5 273.9L194.6 275.8L194.3 276.4L191.1 276.8L186.6 276.9L187.9 275.0L185.5 274.7L184.9 272.4L182.2 272.0L178.0 270.8L177.3 269.8L174.7 270.8L173.0 271.6Z M193.5 280.9L195.9 281.3L198.4 281.3L199.6 281.6L200.1 277.3L197.7 276.8L196.3 277.2L197.5 278.4L198.2 280.2L195.7 280.3Z M187.7 263.0L188.0 265.6L188.2 265.3L187.9 263.0Z M188.5 259.0L189.9 260.1L190.5 259.6L188.9 258.5Z M186.3 259.0L188.2 259.6L188.3 259.0L186.6 258.8Z M60.6 153.3L63.0 155.1L64.9 156.6L67.6 157.7L68.7 159.8L64.5 161.1L59.0 163.2L56.3 163.9L52.2 163.7L52.9 161.4L49.6 161.8L47.2 162.3Z M69.7 147.8L72.9 147.8L72.3 148.7L67.5 149.1Z M57.3 165.5L59.1 166.5L61.2 166.5L59.8 165.3Z M55.0 173.6L56.6 174.5L58.2 173.3Z M8.9 277.2L9.7 278.9L11.4 277.9L11.0 276.5L9.6 275.9Z M8.1 274.2L9.6 274.7L9.1 273.9Z M5.0 272.5L6.1 273.2L5.7 272.1Z M2.0 271.1L2.8 271.5L2.8 270.8Z M184.8 306.1L186.1 307.9L187.3 305.5L189.0 304.0L189.4 301.4L190.9 299.8L192.5 299.3L194.8 299.3L197.2 297.7L198.4 296.3L199.3 296.7L199.2 298.0L197.8 299.5L198.4 300.6L199.8 300.1L201.7 298.8L202.3 296.9L202.9 298.8L205.8 299.5L206.2 301.1L210.8 301.1L213.4 302.4L215.1 301.6L218.1 300.8L220.6 300.8L219.0 302.2L221.2 303.2L222.7 306.3L225.2 307.1L228.1 309.7L230.3 312.3L231.2 313.3L234.0 313.4L238.4 313.5L240.9 314.7L243.3 317.0L243.8 318.0L245.2 318.6L245.8 323.1L247.4 326.2L246.4 328.3L249.0 328.8L250.8 329.6L252.0 330.6L256.6 331.7L260.1 334.0L260.6 335.9L262.9 335.1L267.0 336.4L270.5 336.2L274.0 338.5L277.0 341.3L281.4 342.4L282.5 347.3L282.5 350.0L280.7 354.1L277.8 357.5L274.6 362.8L273.6 367.5L274.1 371.9L272.9 375.8L272.5 380.0L271.4 381.8L270.1 385.5L270.1 386.3L268.0 388.8L265.3 388.8L262.0 389.7L258.6 391.5L255.2 394.1L253.9 396.7L254.3 400.9L254.2 403.5L252.4 405.3L251.5 408.5L249.9 411.1L248.2 412.9L246.0 417.0L245.4 418.7L243.2 420.1L240.4 420.0L236.7 418.8L235.2 417.6L235.5 419.2L238.5 421.0L238.7 423.4L240.4 425.2L239.3 428.1L237.0 429.6L232.4 430.7L229.5 430.1L230.3 432.0L230.7 434.8L227.9 436.2L224.9 435.3L225.6 437.1L228.8 438.7L229.4 440.2L227.4 439.7L226.7 441.0L227.4 445.1L225.4 446.7L224.0 448.7L224.2 450.0L228.2 451.6L229.1 453.6L226.6 456.4L227.1 458.7L225.0 459.7L226.2 462.9L228.1 464.8L226.1 465.2L223.9 466.5L224.1 468.7L220.1 467.2L215.5 464.5L213.6 461.4L210.5 456.4L208.3 451.3L207.9 450.3L209.1 447.5L208.3 442.3L206.9 437.9L206.0 433.3L204.9 428.1L204.1 426.0L204.9 424.7L205.1 421.5L205.8 416.3L205.8 415.0L204.9 409.8L204.5 406.9L203.6 403.3L204.3 399.3L204.4 395.4L204.2 390.5L204.2 386.3L203.8 381.6L202.9 376.9L200.2 374.3L197.5 372.4L193.9 370.3L191.0 368.8L188.2 365.1L186.8 361.5L185.9 360.3L184.4 357.5L183.1 354.9L182.1 352.6L180.8 350.0L178.8 346.8L176.4 344.5L175.9 344.0L175.3 341.0L176.2 339.0L177.6 337.7L178.4 335.9L177.5 335.6L176.1 334.8L175.9 334.5L176.5 331.4L177.0 329.8L177.9 328.8L178.1 327.0L180.5 325.9L180.9 325.0L180.9 324.1L181.9 322.0L184.0 320.2L185.2 318.6L184.1 317.0L184.7 314.4L184.3 311.3L183.4 310.0Z M228.0 465.6L229.1 466.5L231.2 468.4L234.0 469.9L236.7 470.5L236.9 471.4L234.2 471.9L234.1 473.8L232.4 472.9L229.2 472.2L225.8 471.2L223.3 469.9L224.8 468.9L225.8 467.7L224.7 466.0L226.3 465.2Z M350.0 235.3L351.3 235.0L354.1 236.8L356.2 236.6L358.0 237.1L360.6 235.5L361.4 235.5L364.9 233.7L369.2 232.7L373.5 232.7L377.9 232.1L381.3 232.3L383.9 231.4L385.0 232.7L386.5 231.9L385.7 233.7L385.7 235.3L386.9 236.8L384.8 239.2L384.6 240.2L386.8 241.0L388.1 242.2L391.7 242.8L396.2 244.2L397.1 246.5L401.4 248.1L404.8 249.6L406.9 248.1L407.0 244.9L409.9 242.8L413.5 243.6L418.2 246.1L422.3 246.8L426.8 248.2L428.7 247.3L431.1 246.2L434.0 247.0L438.2 247.0L440.2 251.7L439.4 255.6L439.2 256.3L437.6 254.9L435.3 251.2L434.9 250.6L435.1 252.3L437.0 255.6L438.2 257.7L440.1 261.7L442.6 266.1L443.2 268.7L446.1 271.3L446.9 273.9L447.1 277.6L447.9 279.9L450.5 281.8L452.2 287.0L452.9 288.0L454.4 289.6L456.9 290.9L459.8 294.3L461.5 295.6L462.0 297.4L462.1 298.8L460.9 298.5L462.0 298.9L463.8 301.5L466.1 301.6L469.5 300.8L471.8 299.8L475.2 299.3L479.2 297.6L480.3 297.8L480.1 301.6L479.5 304.5L477.8 307.9L475.6 313.1L473.4 317.0L468.9 322.5L467.3 323.6L464.3 326.2L460.8 329.8L458.7 333.1L457.1 334.5L455.5 336.1L454.2 339.4L453.1 341.1L452.1 344.5L453.2 346.6L453.6 349.7L453.3 352.3L454.2 354.9L455.6 356.1L455.6 361.5L455.6 366.7L456.0 368.0L454.0 371.4L449.3 374.0L446.7 375.6L445.0 378.2L441.8 380.7L441.9 383.7L442.9 386.3L442.7 391.0L441.4 393.1L437.9 394.6L435.8 396.6L436.3 398.9L435.1 403.3L433.4 404.6L431.5 406.9L429.4 410.3L426.2 414.0L423.9 415.0L420.7 417.1L418.9 417.6L416.2 418.2L411.9 417.6L406.3 419.7L403.1 418.5L403.0 417.4L402.0 414.2L403.1 411.6L401.1 407.2L399.5 403.5L396.7 399.1L396.2 394.1L395.4 388.6L393.1 383.4L391.1 378.4L389.5 373.9L389.7 370.6L390.4 368.5L391.4 363.8L393.5 361.2L394.4 357.5L393.1 351.8L392.2 347.1L390.9 344.5L390.4 341.9L388.3 339.1L384.9 335.1L383.1 330.6L384.2 328.5L384.9 326.2L385.4 322.8L385.1 318.6L383.3 316.9L382.3 316.4L378.9 317.3L376.6 317.6L374.3 314.2L372.7 312.3L370.6 312.1L369.0 312.2L366.4 312.6L365.5 312.9L364.8 313.6L362.3 314.3L358.1 316.4L355.6 315.5L353.5 315.1L348.9 316.5L345.5 317.4L342.0 315.7L337.9 312.3L336.3 310.8L334.0 309.5L332.4 306.6L332.2 305.3L331.3 304.0L329.2 301.4L328.3 300.1L326.1 298.0L324.5 296.5L324.3 294.6L324.5 292.7L322.8 290.4L325.1 287.0L325.6 284.4L326.4 281.5L325.3 278.1L326.0 276.0L324.2 274.5L324.3 272.9L326.0 270.0L326.7 266.9L329.3 264.3L330.3 260.6L332.8 258.3L333.8 256.4L337.1 254.6L340.1 252.3L341.3 249.4L341.1 246.5L343.0 243.4L346.1 241.0L347.9 240.0L349.3 237.4Z M475.8 360.2L477.5 366.7L478.1 369.0L476.1 371.9L475.1 375.8L473.3 382.4L470.8 388.4L468.5 393.9L464.8 395.5L461.6 394.1L461.0 389.9L460.6 386.3L463.2 381.1L463.6 377.1L463.0 373.2L465.2 371.1L468.4 369.8L471.3 367.7L472.6 364.9L474.6 362.0Z M461.9 358.6L462.5 359.9L462.0 359.9Z M308.4 288.8L309.1 289.4L308.8 289.9Z M305.1 284.1L305.8 284.1L305.6 284.6Z M377.8 327.8L378.3 328.3L377.8 328.8Z M438.2 247.0L438.9 245.7L439.4 243.1L439.7 242.3L440.3 240.2L441.0 238.3L440.4 235.3L440.7 234.8L441.0 233.2L439.7 233.2L437.5 232.7L435.7 234.4L433.1 234.5L429.7 232.5L428.8 232.5L428.5 234.0L425.6 232.9L423.6 232.7L421.9 232.1L421.2 229.8L419.4 228.8L420.4 228.2L419.9 226.2L418.4 225.6L418.5 224.2L417.8 222.5L415.7 222.0L414.4 222.0L413.2 223.0L414.4 224.0L413.4 224.5L412.5 223.8L411.3 223.0L410.8 224.3L411.8 226.2L411.7 227.2L413.1 228.2L414.5 229.5L414.4 230.5L413.2 229.5L412.7 231.1L412.0 230.8L412.9 233.6L411.4 233.7L409.6 232.7L408.6 230.3L409.3 228.8L408.0 228.6L407.0 227.2L405.8 225.4L405.4 225.1L403.9 223.3L403.9 220.5L403.6 219.4L401.6 218.0L399.4 216.6L397.0 215.3L394.3 213.5L393.6 211.4L392.5 210.7L391.5 211.9L390.8 210.1L391.0 209.6L389.7 209.6L388.1 210.7L388.6 211.7L388.3 213.2L390.9 215.0L392.5 217.9L394.5 219.4L396.9 219.4L396.3 220.5L398.7 221.5L400.9 222.7L402.1 224.0L401.8 224.9L400.8 223.7L399.0 223.0L398.1 224.3L398.0 225.4L399.4 226.9L398.3 227.5L398.2 228.5L397.3 229.7L396.4 229.5L396.8 228.0L397.4 226.9L396.4 224.6L395.3 224.3L394.4 223.3L393.4 222.8L392.6 222.1L391.5 221.2L389.3 220.6L388.5 219.8L387.1 218.4L385.8 217.9L384.7 216.7L384.2 215.3L383.8 214.0L383.1 213.9L381.2 213.0L379.6 214.3L378.4 214.5L377.2 215.5L375.3 216.4L373.9 215.8L372.1 215.5L370.9 215.3L369.2 216.3L369.3 218.0L369.5 219.4L367.4 220.8L364.6 222.5L362.1 225.6L363.2 227.6L361.7 228.8L361.2 230.5L358.7 232.3L358.0 232.8L355.2 232.9L353.2 232.9L351.2 234.4L350.6 234.8L349.1 233.4L348.9 232.4L346.8 231.6L345.5 232.1L343.4 232.1L343.9 229.5L343.0 228.5L342.4 227.6L342.9 225.9L343.8 223.8L344.5 221.4L344.0 219.4L343.3 216.6L346.1 214.6L350.2 215.0L354.8 215.3L359.0 215.7L359.6 215.3L360.3 212.3L360.5 210.0L360.3 208.5L358.5 206.6L358.3 205.7L357.0 205.0L354.0 204.3L353.0 202.9L355.7 201.7L358.7 202.1L359.5 202.1L358.9 199.4L360.1 199.4L360.5 200.3L363.0 199.9L365.0 198.8L365.9 196.9L366.4 196.3L367.8 195.9L369.4 195.2L370.1 194.2L370.8 193.6L371.8 192.4L372.1 191.3L373.3 190.6L376.2 190.2L376.8 189.4L378.3 189.4L379.4 189.7L380.1 188.9L379.4 187.8L379.3 186.4L378.3 184.8L378.1 182.3L379.0 181.0L381.4 179.8L382.7 179.5L382.5 182.5L383.5 182.7L382.2 183.5L382.0 185.7L381.1 186.6L382.1 187.5L384.1 187.7L383.9 188.7L386.2 188.3L388.7 187.2L390.4 188.9L394.1 187.9L398.1 186.7L398.9 187.7L400.7 187.5L401.3 186.3L403.3 185.4L403.0 183.6L402.6 181.8L403.5 179.9L405.3 179.5L406.9 181.2L408.2 181.2L408.6 179.2L408.6 178.0L406.6 177.4L406.4 175.9L408.6 175.3L410.8 175.0L414.6 175.3L416.2 174.3L418.4 174.1L415.6 173.1L413.7 172.7L408.8 173.7L405.2 174.4L403.5 173.1L401.8 171.6L401.8 170.2L401.1 168.3L400.5 166.9L402.7 165.3L405.8 163.0L407.3 162.3L406.7 160.9L404.7 160.5L401.4 160.9L400.2 162.8L399.9 164.1L398.8 165.3L396.2 166.9L394.9 168.1L394.1 170.0L394.2 172.4L396.8 173.6L397.7 174.7L396.3 175.7L395.4 177.2L394.1 178.8L393.8 181.3L393.3 183.2L391.0 183.4L390.0 185.2L387.7 185.2L387.0 183.7L386.5 182.3L385.2 179.8L383.6 176.7L383.4 176.2L382.5 174.3L381.9 176.4L379.6 177.6L377.8 178.6L375.9 178.8L373.4 176.7L372.3 174.0L371.9 171.6L371.8 169.3L374.4 167.6L377.0 166.0L380.1 165.1L381.3 163.4L383.7 161.1L384.8 158.9L386.7 157.1L388.2 155.5L389.7 153.7L391.9 152.2L394.3 151.3L397.5 150.7L400.6 149.8L404.9 148.6L408.6 148.9L411.3 149.6L414.0 150.4L412.7 151.7L414.0 151.5L417.9 152.4L423.1 153.1L430.8 155.9L433.6 158.2L432.0 159.6L428.6 159.8L423.1 158.6L419.6 158.4L418.5 157.5L420.7 159.6L423.8 162.3L424.1 163.4L427.4 164.6L429.5 163.9L429.5 162.8L433.2 163.2L434.1 163.3L432.5 161.1L435.2 158.9L439.1 160.0L438.3 157.7L436.1 154.2L440.8 155.5L441.3 157.7L442.7 158.2L445.3 156.2L448.9 154.6L453.2 154.8L455.5 154.2L459.6 153.9L463.2 154.4L464.0 152.8L462.8 151.5L471.1 153.5L473.8 153.7L477.8 154.8L478.7 153.5L474.1 151.5L472.2 148.9L473.6 146.8L473.9 144.9L479.3 145.1L481.2 148.5L484.5 152.2L485.0 155.5L487.3 159.3L489.2 158.2L488.3 155.5L488.4 153.7L486.3 151.1L484.0 147.8L484.4 146.1L487.7 146.1L490.6 147.8L493.0 146.8L490.6 143.6L498.3 142.6L497.7 140.3L503.8 138.7L512.3 138.1L515.4 137.5L518.1 135.1L522.4 135.9L530.8 137.1L537.0 138.9L534.9 141.5L534.9 143.6L540.5 143.0L543.4 143.4L550.7 143.6L559.2 144.0L562.3 142.8L570.9 145.7L573.3 148.3L578.5 149.1L578.5 147.8L583.1 147.6L587.2 148.3L589.0 147.2L587.5 145.7L588.5 145.1L597.8 145.9L606.7 147.6L610.0 148.3L617.2 148.7L626.6 150.7L632.2 152.2L635.4 151.5L641.0 152.0L641.9 151.1L645.2 150.9L648.9 153.3L650.0 151.3L655.7 151.7L664.9 153.3L678.3 162.3L676.9 162.8L674.9 163.0L682.5 166.5L687.2 168.6L685.7 168.6L681.8 169.3L679.1 170.0L676.7 171.6L676.8 174.1L669.7 173.3L666.8 174.0L664.6 174.5L667.9 177.6L667.4 179.3L674.1 183.2L674.9 186.2L675.8 187.4L675.4 190.4L673.6 191.4L674.6 196.4L669.9 193.6L665.6 188.7L660.1 183.7L658.3 179.6L659.5 178.1L658.2 174.5L660.5 172.6L659.2 170.0L657.8 168.1L657.7 170.2L653.8 170.0L656.3 172.6L647.7 170.2L648.5 175.2L650.6 175.9L644.5 176.7L641.9 175.1L638.4 175.0L632.4 175.5L628.0 175.7L627.0 179.3L625.3 182.5L623.9 186.7L629.4 189.2L632.5 189.4L637.1 190.6L638.6 190.4L641.4 193.1L644.2 198.7L646.6 202.5L646.4 207.3L645.7 212.5L644.6 215.5L641.5 217.4L638.6 216.3L637.3 218.4L636.8 220.7L637.5 222.3L634.4 224.9L634.9 226.2L637.7 228.0L641.9 232.1L643.3 234.8L643.7 236.6L643.3 237.1L640.8 237.9L638.7 239.2L637.4 237.1L636.2 233.4L636.3 232.1L635.1 230.6L632.2 230.3L630.8 229.3L630.7 227.7L629.4 225.4L627.5 224.6L624.9 225.4L622.3 227.5L622.4 225.6L621.9 222.8L619.0 222.1L617.2 224.6L614.7 226.4L614.6 227.5L618.0 229.8L619.1 231.4L622.2 230.1L626.5 231.1L624.2 233.2L623.4 234.8L622.3 237.4L625.7 240.5L628.2 243.6L631.3 246.0L632.0 248.1L630.1 249.6L632.9 250.7L633.4 254.3L631.9 256.2L630.9 260.9L629.5 264.3L628.1 265.3L625.7 267.9L622.0 269.5L620.6 270.5L619.1 271.1L615.9 272.1L612.7 273.7L612.8 275.5L611.0 272.9L608.0 272.1L606.9 272.6L604.5 274.5L603.0 277.9L602.9 279.9L605.1 282.6L607.8 285.4L609.8 286.7L611.9 290.9L613.1 294.8L613.4 297.7L612.6 299.3L609.1 301.6L607.9 303.5L605.3 305.5L603.8 306.3L603.6 303.2L602.7 301.6L600.6 301.1L599.0 298.8L598.8 298.2L597.0 296.7L594.2 295.6L593.7 293.7L591.7 294.1L591.9 297.4L590.5 301.4L591.0 304.8L592.7 306.6L593.8 309.7L595.3 310.8L597.9 312.6L600.1 314.4L601.2 317.0L601.2 319.7L601.5 322.0L603.2 325.1L601.6 325.4L599.2 323.3L596.4 321.2L594.9 318.3L594.0 314.7L593.5 312.1L592.0 310.0L590.3 307.9L588.9 307.9L588.7 305.3L589.3 302.7L588.7 298.8L588.7 296.1L587.4 292.7L586.2 289.6L585.3 285.7L583.5 284.4L582.1 285.7L580.3 287.7L577.9 287.0L577.9 283.1L577.0 279.9L575.0 277.1L573.3 276.0L571.7 274.7L570.0 270.5L568.1 270.0L567.2 271.3L564.1 271.8L561.6 272.1L559.5 272.9L559.3 275.2L557.3 277.1L555.5 278.9L552.3 282.6L550.3 285.4L548.2 286.2L547.4 287.5L545.8 289.6L546.3 293.5L546.6 294.6L545.8 297.7L546.1 301.9L544.3 304.5L542.5 305.5L541.2 307.7L538.9 305.5L537.8 302.7L536.7 299.3L534.2 295.1L532.1 290.1L531.2 288.3L529.7 284.4L528.2 279.3L527.5 276.5L527.5 273.7L526.8 272.1L526.0 270.8L525.9 273.9L523.3 274.7L519.1 271.3L518.5 270.5L521.3 269.0L517.8 268.2L516.3 266.9L514.4 266.1L513.3 264.0L511.9 262.4L507.5 263.0L503.0 263.0L501.0 263.2L498.5 262.7L494.6 262.2L491.2 261.4L489.9 258.3L488.5 257.9L485.1 259.3L482.4 259.0L479.9 257.0L477.3 255.9L475.7 253.3L473.7 250.2L471.2 249.4L470.3 250.6L469.1 250.4L469.1 251.5L470.0 254.1L471.6 256.7L474.1 258.8L475.0 260.4L475.3 262.2L476.9 264.1L476.8 261.9L477.4 260.6L478.5 262.7L478.7 264.5L478.3 264.8L478.8 265.6L481.1 265.6L484.2 265.8L485.3 264.8L486.8 262.7L488.3 260.7L489.0 260.0L489.1 261.9L489.4 263.7L490.5 265.3L492.7 266.8L494.7 267.1L497.7 270.0L496.8 272.9L495.3 275.5L493.7 276.0L493.8 279.2L492.2 279.4L490.8 282.0L488.4 283.1L486.0 284.4L483.8 285.3L481.9 288.0L479.2 289.2L475.0 290.9L472.6 292.2L469.2 293.8L465.8 295.4L462.4 295.8L461.7 294.1L460.8 290.1L460.2 287.8L460.3 286.0L458.3 282.6L456.3 279.9L454.6 277.1L451.4 272.6L450.5 269.2L448.2 265.8L446.2 263.0L444.7 260.9L442.2 257.5L440.7 255.4L439.8 255.4L440.3 251.7Z M351.3 198.6L354.4 197.8L356.0 197.2L358.8 197.2L360.8 196.8L363.3 196.8L365.5 195.8L364.7 195.3L363.9 194.9L365.9 193.4L366.1 191.9L363.5 191.1L362.9 189.9L362.4 188.4L360.4 187.2L359.9 185.7L358.9 184.2L357.0 183.7L357.8 182.5L359.0 179.6L356.2 179.6L355.0 179.8L357.0 177.4L353.4 177.4L351.8 179.8L352.1 182.5L351.0 182.0L352.0 185.4L353.5 185.0L353.3 186.9L356.0 186.4L356.9 188.7L356.7 190.2L354.2 190.4L354.7 192.4L352.5 193.9L355.0 194.7L356.8 195.2L354.2 195.9L352.6 197.7Z M342.8 194.2L345.9 194.7L350.1 193.1L351.0 190.2L350.7 188.7L352.1 187.4L350.8 185.7L348.5 185.4L346.8 185.9L346.1 187.9L343.4 188.2L343.4 190.2L344.6 190.9L343.9 192.1L342.4 193.4Z M320.2 161.1L324.7 159.1L325.8 161.1L331.2 159.8L334.8 158.9L337.4 160.0L338.9 162.1L336.4 163.9L330.7 165.8L326.6 165.8L322.7 164.9L324.1 163.7L320.6 162.5L324.2 162.1Z M378.4 131.8L382.9 131.2L387.1 130.9L391.7 131.8L394.2 133.0L390.8 134.0L390.8 135.5L388.5 137.3L385.3 136.5L383.3 134.9L379.6 133.4Z M389.3 130.9L394.1 130.2L400.7 130.7L399.7 131.9L392.4 131.9Z M446.5 147.6L449.9 149.6L454.1 149.8L457.3 149.6L455.1 147.6L451.6 145.1L452.0 143.0L454.2 141.3L456.8 139.5L461.8 137.9L467.1 137.3L465.2 136.5L460.1 137.7L454.4 138.3L450.9 139.9L449.4 142.6L448.2 144.7L446.3 146.3Z M429.7 130.2L436.2 129.3L444.3 128.8L450.5 129.5L445.8 130.7L437.4 131.1Z M501.5 132.3L501.9 129.8L512.1 132.1L517.6 134.0L510.2 134.0L505.3 133.0Z M575.1 139.7L576.7 138.3L586.4 139.5L595.1 140.1L595.2 141.1L585.2 140.7L579.6 141.1Z M584.8 143.8L590.4 143.6L591.3 144.4L586.8 144.4Z M654.3 148.3L655.8 147.8L658.0 149.1L656.4 149.4Z M639.3 187.9L644.5 192.4L648.7 197.4L654.8 201.5L653.2 204.0L656.3 206.8L655.9 208.9L654.5 208.6L651.8 204.3L648.4 199.9L643.3 194.4L639.7 189.9Z M655.4 210.1L660.8 213.2L664.5 213.2L666.9 215.8L664.3 216.8L664.3 219.2L660.2 217.6L658.8 220.5L656.2 217.4L656.1 215.5L658.2 215.3L656.0 211.7Z M660.1 220.5L662.6 222.5L665.4 225.4L666.2 228.8L666.2 230.8L668.0 234.8L667.5 236.8L666.0 236.1L665.5 238.1L663.9 238.4L661.3 238.4L661.2 239.2L660.4 241.3L658.2 240.2L657.6 238.4L653.9 238.9L651.6 240.2L648.7 240.0L648.3 238.7L650.5 236.3L653.7 236.1L657.7 235.8L658.0 232.9L658.3 230.8L659.3 232.4L661.0 231.1L661.8 229.0L661.0 225.1L659.4 222.8L659.3 221.2Z M648.8 240.2L650.9 241.0L652.3 243.4L652.0 247.0L651.1 247.6L649.8 246.5L648.7 243.6L647.1 242.6L647.3 241.3Z M652.4 241.0L654.8 239.1L656.9 239.7L656.6 241.5L655.0 243.1L653.4 242.8Z M389.5 229.8L391.3 229.0L396.2 228.9L395.5 231.4L395.4 232.9L393.6 232.5L389.9 230.6Z M380.1 222.0L382.2 221.1L383.4 223.0L383.2 226.4L382.0 226.9L380.7 226.7L380.6 223.6Z M380.8 218.1L382.4 216.6L382.7 218.9L382.2 220.7L381.1 219.9Z M413.9 235.9L415.5 236.4L418.6 236.4L419.9 236.8L418.5 237.5L416.5 237.5L414.0 236.7Z M433.0 237.2L434.4 236.4L437.7 235.7L436.7 237.4L434.7 238.4Z M412.3 227.1L414.6 228.2L415.5 229.5L414.5 229.0L412.8 227.7Z M384.0 184.5L386.2 183.5L386.9 184.7L386.1 186.2L384.3 185.7Z M381.6 185.0L383.3 185.0L383.4 186.1L382.0 185.9Z M396.9 180.5L398.5 179.1L398.3 180.5L397.4 181.4Z M403.7 177.9L405.7 177.4L405.7 178.4L404.2 178.8Z M443.7 153.1L445.3 152.2L447.2 153.3L445.3 153.9Z M459.8 151.1L460.8 150.0L463.1 151.1L461.8 151.7Z M473.3 144.0L476.2 143.6L476.1 144.7Z M475.7 260.4L476.2 260.4L476.1 261.3Z M619.4 387.6L620.8 385.8L624.1 383.7L627.2 382.6L630.5 381.8L634.1 381.1L637.4 380.0L640.9 376.1L641.0 373.7L644.1 374.3L644.5 371.9L648.6 369.3L651.1 365.9L654.4 365.4L655.7 367.7L658.9 367.7L658.8 365.4L661.0 362.8L662.5 361.2L665.1 360.7L667.0 358.6L668.9 359.6L672.7 360.7L676.4 360.2L674.1 363.5L672.4 367.7L674.9 370.3L679.4 373.0L681.3 375.0L683.5 374.3L686.3 368.0L687.1 362.5L688.9 357.5L689.9 356.8L691.5 362.2L691.5 366.4L694.8 367.7L694.9 373.0L695.0 378.2L697.9 379.5L700.4 383.7L703.0 387.8L702.9 390.2L705.8 396.5L705.4 400.4L704.2 404.3L700.6 409.8L697.9 413.4L693.4 417.4L688.2 422.8L685.4 426.8L681.2 427.8L675.3 430.9L673.2 428.6L669.8 430.1L666.1 429.1L664.3 428.1L665.0 422.8L662.5 421.8L664.4 419.5L665.0 415.3L660.9 420.0L658.8 419.5L658.3 417.1L657.3 414.2L654.3 412.4L651.8 411.1L646.7 411.6L640.0 413.2L634.6 415.0L632.8 417.4L629.1 417.4L624.6 417.6L619.4 420.5L616.4 420.2L613.6 418.4L616.1 415.8L617.6 411.6L617.5 407.2L617.8 403.3L617.5 400.1L616.8 396.7L618.5 397.0L617.7 392.5Z M669.4 435.1L672.6 436.1L676.7 435.6L674.5 439.0L671.9 441.5L668.9 442.6L667.4 440.8L668.7 437.9Z M739.4 418.7L740.8 420.8L740.2 424.9L742.6 424.4L741.4 427.0L743.3 428.1L746.6 427.3L742.6 431.2L740.3 431.7L738.4 434.0L732.5 437.4L731.8 436.6L735.2 433.5L734.4 432.5L733.5 431.7L736.5 429.9L738.9 426.5L739.5 423.9L739.0 420.8Z M729.1 434.6L731.2 436.4L728.3 439.0L723.7 441.8L722.9 443.3L718.5 444.4L713.9 448.5L709.5 450.3L707.5 450.3L705.0 449.2L707.9 446.4L712.7 443.9L719.5 441.0L723.8 437.9L727.1 435.6Z M665.1 330.9L668.3 329.8L672.0 330.9L672.3 335.1L674.1 337.4L677.2 334.8L680.9 332.7L685.3 334.8L688.0 335.6L691.8 337.4L695.9 339.0L698.8 341.9L702.5 344.5L703.1 346.3L701.2 346.6L703.7 350.0L706.9 354.7L708.7 356.5L706.7 356.2L702.5 355.2L698.6 350.0L695.7 348.7L693.8 349.7L692.2 352.3L689.4 352.8L686.9 352.6L684.4 350.0L680.2 350.7L682.5 347.6L682.0 344.5L680.7 342.9L676.2 340.6L671.9 339.0L669.1 339.5L669.0 336.6L667.0 336.1L671.0 334.5L668.0 334.5L664.8 332.5Z M704.4 343.4L708.9 341.9L712.0 339.8L713.8 340.0L712.7 343.2L710.1 344.7L706.6 345.3Z M710.4 335.6L713.7 337.7L715.7 340.6L714.7 340.8L712.6 337.4Z M719.0 342.4L720.9 344.7L721.7 346.6L720.1 345.8Z M723.1 346.3L725.3 347.9L725.0 348.4Z M729.6 353.1L731.4 353.4L732.2 354.4L729.9 354.4Z M732.2 350.5L733.5 353.1L732.8 353.4Z M733.2 355.4L735.4 356.5L734.2 357.0Z M727.1 348.4L730.3 350.7L729.8 351.0Z M743.5 367.2L744.5 369.3L743.5 369.6Z M744.2 370.6L745.4 371.6L744.3 372.2Z M745.6 374.8L746.1 375.3L745.4 375.3Z" fill="#e4e9e0" stroke="none"/>
<path d="M254.9 134.2L261.0 135.7L254.4 138.1L261.6 138.7L269.5 138.3L272.4 139.7L272.1 142.6L274.3 145.7L273.2 149.4L278.1 151.3L273.0 153.3L273.0 155.1L270.6 157.7L270.5 160.7L270.8 164.1L272.6 168.6L274.2 171.6L278.5 172.6L280.7 174.3L283.7 173.6L285.5 170.5L288.3 167.4L291.2 163.9L295.7 160.9L300.2 160.2L305.1 158.2L310.2 155.3L317.2 154.4L322.8 152.0L325.5 150.7L321.9 148.3L327.1 147.2L326.8 144.7L330.4 143.0L332.5 140.1L333.3 136.9L335.4 134.2L336.7 131.8L338.5 130.4L345.3 128.3L334.9 128.0L329.6 127.0L320.9 125.1L308.6 125.4L297.2 126.1L287.0 126.9L279.7 127.4L274.5 128.5L267.5 130.0L265.1 131.1L266.9 132.3L257.1 133.4Z M210.0 280.5L213.6 280.7L213.1 281.8L209.9 281.9Z M238.4 313.3L237.3 315.7L238.2 319.4L236.8 322.8L238.6 322.8L240.7 323.1L241.5 322.3L243.7 318.2L244.3 316.8L240.9 313.6Z M323.2 273.9L324.2 274.5L324.3 273.1L333.4 273.1L333.2 269.2L335.7 267.5L335.9 260.9L343.3 260.9L343.4 256.5L333.3 256.5L330.4 255.9L328.0 260.9L324.5 266.9Z M635.7 263.0L636.6 264.0L636.4 268.5L635.8 271.5L633.9 269.5L633.2 267.1L634.2 264.3Z M734.4 381.3L736.9 383.1L739.8 386.3L739.5 387.3L736.7 385.8L734.4 383.1Z" fill="url(#hatch)" stroke="#aaa" stroke-opacity="0.5"/>
<path d="M184.7 280.9L185.7 280.5L188.0 280.7L189.4 281.8L187.8 282.2L185.8 282.2Z M220.6 300.8L222.7 300.6L222.6 302.4L220.6 302.5Z M766.3 374.5L768.9 374.3L769.2 375.8L767.2 376.6L766.0 375.8Z M770.0 372.4L773.3 371.1L772.8 372.2L770.5 373.2Z" fill="#fed976" stroke="none"/>
<path d="M199.6 281.6L200.3 282.8L202.5 281.3L203.9 280.7L206.6 281.3L207.4 280.2L206.1 278.9L204.2 277.6L201.8 276.8L200.1 277.3Z M609.5 278.6L611.2 276.5L613.4 276.4L614.5 277.6L613.6 279.9L611.7 281.3L609.7 280.2Z M650.2 352.1L650.4 351.3L655.5 350.7L654.5 351.8L650.2 353.6Z" fill="#ffeda0" stroke="none"/>
<path d="M546.1 303.7L547.3 303.5L549.5 306.6L551.1 309.7L550.7 312.1L548.4 313.3L547.0 312.6L546.3 308.9L546.5 306.6Z" fill="#feb24c" stroke="none"/>
<path d="M582.3 314.2L587.4 315.2L589.4 317.8L593.2 321.2L594.4 323.1L597.2 323.3L600.4 326.7L601.6 329.8L603.9 332.2L604.8 334.8L607.2 336.4L606.9 340.0L606.7 344.0L605.1 344.2L603.7 343.2L600.8 341.3L598.6 339.3L596.6 336.1L594.6 332.7L593.5 330.1L591.7 328.3L590.5 324.4L588.1 322.0L585.7 319.1L582.9 316.3Z M605.0 346.6L607.2 344.2L609.2 344.3L612.6 346.0L616.9 346.8L618.1 345.5L622.0 346.8L622.8 348.7L626.2 348.9L625.8 351.5L622.0 350.7L617.4 350.2L612.9 348.9L607.9 348.1Z M622.2 347.1L625.4 346.8L624.9 347.6L622.4 347.6Z M605.5 333.5L607.6 333.0L608.8 336.6L606.8 335.6Z M611.0 335.6L612.6 336.1L611.6 337.2Z M614.3 324.9L615.8 323.6L619.3 324.9L619.7 321.7L623.4 320.4L625.5 316.8L628.9 314.4L631.4 310.8L633.8 312.1L633.7 313.6L637.4 315.0L635.0 317.3L634.4 319.1L634.1 323.1L637.1 326.2L634.6 326.7L633.9 330.6L631.6 333.0L631.0 336.6L630.2 338.7L627.2 339.5L626.8 337.7L623.4 337.2L620.6 337.7L616.9 336.4L616.8 332.7L614.5 330.1L614.3 328.0Z M639.2 326.7L641.5 325.4L646.4 326.3L650.0 326.2L651.6 324.6L650.1 327.8L647.3 328.0L643.1 327.5L639.9 328.5L639.7 330.9L642.2 331.2L644.7 331.2L647.3 330.9L647.5 331.4L644.2 333.0L643.1 333.8L645.3 337.2L646.8 339.8L646.2 342.9L644.4 341.3L642.8 340.8L643.1 339.3L641.5 337.9L640.5 336.4L640.3 340.8L639.9 343.2L638.1 343.2L638.2 339.8L638.3 337.9L636.8 336.1L637.8 334.0L638.0 331.9L639.2 329.1Z M657.1 323.1L658.1 325.1L659.7 324.9L658.6 327.2L659.8 328.0L657.9 328.8L658.8 330.9L657.7 329.8L657.0 326.2Z M657.7 336.9L661.5 336.1L664.4 337.7L662.5 338.2L658.4 337.9Z M653.3 337.2L655.7 337.0L656.1 338.2L654.4 338.9L653.3 337.9Z M626.2 350.0L628.7 350.2L627.6 351.8Z M629.3 350.7L631.0 350.5L630.6 352.1L629.2 351.8Z M631.4 351.0L634.2 350.2L636.7 351.0L636.1 351.8L633.6 352.1L631.3 352.3Z M638.5 350.7L642.2 351.0L645.7 350.5L645.1 351.5L640.9 352.2L638.4 351.8Z M636.2 353.6L638.5 353.4L640.2 354.9L638.3 355.7L636.2 354.4Z M646.4 355.7L647.7 353.4L650.2 352.1L650.2 353.6L648.5 355.2Z M648.9 350.2L650.5 350.2L649.3 350.9Z M652.5 348.9L654.5 348.9L653.3 349.6Z M664.5 348.4L665.9 347.6L665.5 349.7Z M671.6 344.5L673.3 343.4L672.7 346.6L671.7 346.6Z M668.7 342.9L669.4 342.9L668.9 344.2Z M675.7 330.9L677.3 331.4L676.3 331.9Z M658.5 322.5L659.4 322.5L659.2 323.6Z M649.8 333.2L653.5 333.5L652.1 333.9Z M656.7 332.5L658.1 332.7L657.4 333.2Z M662.0 333.5L663.6 333.8L662.7 334.2Z M663.5 329.1L665.5 329.3L664.4 329.7Z" fill="#e31a1c" stroke="none"/>
<path d="M636.8 280.5L639.9 281.0L641.2 283.6L641.4 286.2L640.1 288.0L641.1 291.4L643.1 291.7L644.9 292.7L647.1 295.9L646.6 295.1L644.4 294.1L642.6 292.5L640.8 293.0L638.9 292.5L638.5 290.9L637.2 290.1L636.2 286.5L637.2 285.4L636.8 282.8Z M638.4 293.8L640.2 293.8L641.1 295.9L640.4 296.9L639.5 295.6Z M632.3 306.9L634.9 304.5L636.7 301.9L637.4 299.3L636.4 301.1L634.6 303.2L632.4 305.5Z M642.3 297.7L645.1 298.8L644.3 301.4L642.9 301.4Z M644.8 300.3L646.2 300.6L646.2 305.0L644.8 304.2L643.9 302.9Z M646.3 304.0L647.3 299.5L646.8 301.9Z M647.2 303.2L648.7 302.4L648.8 303.5Z M647.9 299.0L649.6 299.3L650.3 302.2L649.4 302.7L648.8 300.6Z M647.6 296.1L649.9 296.4L651.2 299.5L649.6 299.3L649.0 298.2Z M645.3 296.4L647.0 296.9L646.2 297.6Z M643.6 310.5L645.3 308.2L646.5 306.3L649.5 306.3L650.9 303.5L653.1 305.5L653.9 309.7L653.4 312.3L651.7 311.0L652.3 314.2L651.2 314.2L648.8 312.1L648.2 309.7L646.7 309.2L644.7 310.3Z M643.2 311.6L644.4 311.6L643.7 312.1Z M641.2 313.1L642.4 313.1L641.7 313.5Z" fill="#fc4e2a" stroke="none"/>
<g clip-path="url(#landclip)">
<path d="M152.0 290.8L152.0 288.8L153.4 286.9L156.4 286.7L154.5 283.7L155.5 283.7L155.7 282.2L159.9 282.2L159.2 287.3L159.9 287.3L161.4 287.8L161.2 288.0L159.1 289.5L158.5 291.1L156.6 292.9L154.0 293.8Z" fill="#fed976"/>
<path d="M158.5 291.1L159.1 289.5L161.2 288.0L162.0 286.5L166.7 286.0L171.2 286.2L173.1 289.6L171.0 290.1L169.0 290.1L166.7 292.6L164.2 292.9L164.2 294.1L162.8 294.8L161.6 295.1L161.9 293.8L161.9 292.5L160.3 292.3L159.2 291.4Z" fill="#ffeda0"/>
<path d="M156.6 292.9L158.5 291.1L159.2 291.4L160.3 292.3L161.9 292.5L161.9 293.8L161.7 294.8L160.0 295.1L156.7 294.1Z" fill="#ffeda0"/>
<path d="M184.8 306.1L185.8 304.5L189.6 298.8L194.2 297.4L198.5 295.1L200.0 296.1L199.2 298.0L197.7 298.5L196.4 299.8L195.0 303.2L195.4 305.0L196.2 306.9L195.9 309.2L197.0 310.5L200.0 310.3L201.4 310.6L202.9 312.9L207.4 312.6L206.5 315.0L206.4 317.0L207.5 319.9L206.2 321.4L207.7 322.5L208.4 325.6L207.9 325.7L207.3 323.3L206.1 324.2L201.6 324.3L201.6 326.0L203.1 327.1L201.1 327.4L201.1 329.2L202.6 331.7L201.5 339.8L200.7 338.7L199.7 338.6L201.2 335.9L197.1 334.5L194.6 335.2L192.7 332.1L190.1 329.3L189.0 329.1L186.7 327.8L184.1 327.8L183.4 326.6L180.9 325.0L179.1 324.9L179.4 321.0L181.9 314.4L182.0 310.5L183.4 310.0Z" fill="#ffeda0"/>
<path d="M200.0 296.1L202.6 295.1L206.8 298.5L213.6 299.5L220.5 299.3L223.8 301.4L224.1 305.3L225.2 307.1L223.1 309.1L223.9 310.3L221.9 311.3L221.9 312.6L221.3 313.3L222.8 315.2L223.1 315.9L222.1 317.0L218.1 318.2L217.8 319.4L215.2 318.1L213.8 318.1L214.9 322.3L216.5 323.1L215.1 323.7L214.6 324.9L212.1 326.3L211.5 327.1L209.8 326.8L208.4 325.6L207.7 322.5L206.2 321.4L207.5 319.9L206.4 317.0L206.5 315.0L207.4 312.6L202.9 312.9L201.4 310.6L200.0 310.3L197.0 310.5L195.9 309.2L196.2 306.9L195.4 305.0L195.0 303.2L196.4 299.8L197.7 298.5L199.2 298.0Z" fill="#fed976"/>
<path d="M243.7 318.2L241.5 322.3L240.7 323.1L238.6 322.8L236.8 322.8L233.8 324.0L233.6 322.8L232.4 323.7L230.5 323.7L228.9 324.9L227.8 325.4L226.8 325.4L225.1 324.0L224.5 322.0L225.4 318.6L224.9 317.2L224.3 315.2L222.8 315.2L223.1 315.9L222.1 317.0L218.1 318.2L217.8 319.4L215.2 318.1L213.8 318.1L214.9 322.3L216.5 323.1L215.1 323.7L214.6 324.9L212.1 326.3L211.5 327.1L209.8 326.8L208.4 325.6L207.9 325.7L207.3 323.3L206.1 324.2L201.6 324.3L201.6 326.0L203.1 327.1L201.1 327.4L201.1 329.2L202.6 331.7L201.5 339.8L199.5 339.8L194.8 342.4L194.1 344.6L193.1 346.8L192.4 348.4L194.9 352.3L196.6 353.6L196.9 354.9L200.5 353.6L200.7 357.5L203.1 357.4L205.3 357.8L209.5 354.7L212.7 354.4L212.8 359.4L215.4 361.5L218.4 361.7L220.8 363.3L224.3 364.9L225.0 368.0L225.5 371.3L229.6 371.4L230.0 374.0L232.0 376.3L231.5 378.4L231.0 381.4L231.8 383.0L232.0 386.5L236.8 387.1L238.1 391.5L239.9 391.2L240.7 393.1L240.3 395.7L242.5 397.2L242.6 399.7L238.5 402.7L235.2 407.7L239.0 409.3L239.9 409.5L244.4 412.7L246.0 414.2L246.0 417.0L248.1 417.6L249.8 415.0L253.3 408.5L255.8 402.0L256.2 395.4L260.5 392.8L265.9 390.5L269.2 389.7L272.3 385.0L274.3 379.7L275.6 370.6L276.2 362.8L280.1 356.2L284.1 349.7L284.0 345.8L282.1 340.6L277.4 339.3L272.8 334.8L265.8 334.0L261.2 332.5L256.6 329.8L252.0 328.0L248.5 325.7L247.9 322.3L246.3 317.0Z" fill="#ffeda0"/>
<path d="M203.1 357.4L205.3 357.8L209.5 354.7L212.7 354.4L212.8 359.4L215.4 361.5L218.4 361.7L220.8 363.3L224.3 364.9L225.0 368.0L225.5 371.3L229.6 371.4L230.0 374.0L232.0 376.3L231.5 378.4L231.0 381.4L228.6 379.4L222.7 380.1L221.7 382.5L221.3 386.9L218.3 386.3L217.7 388.5L215.5 386.5L212.9 385.9L211.2 388.4L209.6 388.4L208.6 385.0L207.0 382.1L207.4 379.5L206.1 378.4L204.6 374.5L205.4 371.9L204.3 369.6L204.6 367.2L205.2 365.9L204.7 362.2L205.3 361.5Z" fill="#ffeda0"/>
<path d="M369.0 313.1L369.1 308.4L369.0 305.3L371.0 302.2L371.0 298.2L372.1 295.0L374.0 292.9L378.6 294.6L381.1 294.1L384.7 295.4L387.2 293.9L391.4 294.6L393.9 293.0L395.0 294.6L396.2 295.6L395.3 296.4L394.4 300.1L392.4 304.0L390.8 306.9L389.9 310.3L388.8 311.6L387.2 310.3L386.0 310.6L383.9 312.9L383.0 315.2L382.3 317.0L381.2 318.9L375.4 318.9L372.0 313.6Z" fill="#ffeda0"/>
<path d="M446.2 291.4L449.4 289.9L451.9 290.5L456.3 292.0L459.9 296.1L458.6 298.5L458.7 300.1L461.2 300.2L460.8 301.1L463.9 305.3L470.9 307.9L473.2 307.9L466.2 316.0L463.5 316.0L459.4 318.5L457.3 318.5L453.8 319.8L450.6 319.3L447.8 317.2L445.7 317.2L445.5 315.0L442.6 311.3L441.0 309.7L438.7 308.2L440.8 306.7L441.1 304.0L441.5 301.4L442.9 300.5L443.2 298.0L445.5 295.6Z" fill="#ffeda0"/>
<path d="M438.5 353.4L440.6 354.1L442.0 356.2L442.1 359.1L442.8 359.1L442.4 364.1L444.6 366.9L444.4 370.6L443.3 371.1L443.2 373.5L441.2 371.4L441.6 368.0L441.6 366.7L439.6 366.8L437.6 364.3L438.4 361.7L439.1 359.1L439.2 357.0L439.7 355.4Z" fill="#fed976"/>
<path d="M440.3 252.1L442.8 252.5L444.2 250.8L445.8 250.4L446.8 249.1L444.3 246.5L449.0 244.8L451.7 245.3L455.7 247.6L462.0 252.5L466.2 252.8L468.2 253.0L468.9 254.2L470.4 254.2L471.6 254.6L475.1 255.9L477.7 260.9L476.9 261.9L476.9 264.1L477.8 264.5L478.8 265.6L478.8 265.8L480.0 268.7L486.8 269.6L488.5 271.3L487.4 276.5L480.8 279.2L474.3 280.2L472.3 281.3L470.9 284.1L469.8 284.5L469.2 283.6L468.3 283.7L466.1 283.5L465.6 283.2L462.9 283.3L461.5 283.0L461.0 285.3L460.3 286.0L458.6 287.0L453.7 280.5L448.7 272.6L443.6 263.5L438.6 257.0L439.0 253.6Z" fill="#ffeda0"/>
<path d="M480.8 279.2L487.4 276.5L488.5 271.3L487.3 269.5L488.3 266.1L488.5 263.6L489.4 263.7L491.2 264.0L495.5 265.6L499.5 270.0L498.2 275.2L495.5 277.9L494.6 281.3L491.4 283.9L487.0 286.0L483.7 286.7L483.8 285.3Z" fill="#ffeda0"/>
<path d="M488.3 260.7L488.5 261.7L489.1 261.9L490.0 260.9L489.1 259.0L488.3 259.8Z" fill="#ffeda0"/>
<path d="M519.9 225.8L521.5 223.0L525.5 221.7L528.3 220.7L531.5 219.0L530.8 216.6L531.7 216.2L529.4 212.5L533.2 210.9L532.4 210.0L532.2 205.8L537.4 206.2L536.4 202.7L538.1 201.0L539.6 200.7L540.7 202.2L545.6 204.0L549.1 207.3L550.4 210.7L556.2 211.6L560.9 213.2L564.8 217.2L574.1 217.5L583.9 220.1L584.2 220.2L594.1 217.2L596.0 214.8L594.1 211.2L598.1 212.1L603.3 207.5L608.2 207.1L602.5 203.8L598.4 204.0L597.0 203.4L596.7 199.1L599.5 199.9L601.3 198.4L600.4 194.5L600.0 192.3L598.2 191.8L599.0 190.4L603.8 189.8L608.6 191.0L617.7 198.0L629.0 204.5L632.2 204.4L635.7 203.0L636.6 205.2L637.9 211.2L635.8 213.9L637.0 216.8L636.9 218.0L635.0 218.0L632.2 219.2L633.4 220.7L630.1 219.7L629.3 221.7L627.5 224.6L627.8 226.9L632.5 234.8L636.4 250.4L634.8 264.8L627.5 273.9L617.9 284.4L607.4 283.1L605.5 277.9L607.0 272.5L604.5 271.8L603.2 269.0L600.0 267.9L598.5 269.2L595.2 270.0L593.3 270.3L592.8 273.5L591.5 272.5L589.3 272.8L586.8 270.9L587.2 268.8L585.7 268.2L584.8 265.8L582.3 266.2L582.2 263.2L583.9 261.1L583.0 256.7L582.1 256.8L579.6 255.0L576.7 255.6L572.8 258.3L568.6 259.6L559.7 260.1L550.5 258.3L540.8 254.3L535.3 249.1L531.6 242.6L525.6 236.1L522.5 232.7L523.6 232.0L524.1 231.5L523.0 228.2L520.8 228.0Z" fill="#ffeda0"/>
<path d="M501.2 264.8L501.0 263.0L501.2 260.2L504.1 259.2L503.9 257.6L503.0 257.5L502.5 255.0L500.2 254.0L497.6 250.8L501.5 252.0L505.4 251.6L509.7 250.8L509.3 247.9L512.0 246.8L515.3 245.5L515.0 243.9L516.7 241.7L515.4 239.8L517.8 239.1L518.4 236.8L517.0 234.5L519.3 232.7L522.5 232.5L523.6 232.0L526.5 233.1L531.7 236.1L530.3 237.4L524.3 238.0L523.6 239.2L525.1 242.1L528.4 244.4L526.7 246.0L527.3 247.8L525.5 250.6L524.6 253.2L522.8 255.9L520.1 255.8L518.1 258.4L519.7 259.6L520.3 261.7L521.9 263.0L522.5 265.2L517.5 265.2L516.3 266.9L516.1 268.7L511.3 266.1L506.6 264.8Z" fill="#fd8d3c"/>
<path d="M516.3 266.9L517.5 265.2L522.5 265.2L521.9 263.0L520.3 261.7L519.7 259.6L518.1 258.4L520.1 255.8L522.8 255.9L524.6 253.2L525.5 250.6L527.3 247.8L526.7 246.0L528.4 244.4L525.1 242.1L523.6 239.2L524.3 238.0L530.3 237.4L531.7 236.1L534.9 239.2L535.2 241.3L536.4 242.7L536.7 243.9L535.0 243.6L536.4 246.5L538.8 248.1L542.3 249.9L541.3 251.2L540.9 253.6L543.1 254.6L548.7 257.3L551.9 257.7L553.4 258.9L557.9 259.8L559.8 259.8L559.3 255.9L560.5 255.5L561.1 257.5L563.5 259.0L566.6 258.8L568.5 258.7L567.3 256.3L569.0 255.9L570.5 254.0L572.7 252.4L574.7 252.9L576.0 251.9L577.5 253.4L579.6 255.0L579.1 256.4L579.8 258.0L578.0 257.6L575.9 260.9L576.4 263.5L575.3 264.3L574.6 266.5L572.7 266.0L573.3 268.5L572.7 269.5L573.1 270.5L572.0 271.2L570.3 267.0L569.7 267.1L569.0 269.4L568.1 267.4L568.5 265.8L569.5 265.7L570.2 263.5L564.5 262.7L564.1 261.0L562.9 260.9L560.9 259.7L560.5 261.5L562.4 262.8L561.1 263.7L560.8 264.8L562.3 265.4L562.2 267.0L563.2 269.0L563.9 271.2L564.3 273.9L560.0 276.5L554.3 285.7L548.3 294.8L547.7 303.2L544.5 307.9L541.1 309.7L536.3 305.3L530.9 292.2L526.5 281.8L524.8 276.5L519.0 275.2L515.8 270.0Z" fill="#b10026"/>
<path d="M540.9 253.6L541.3 251.2L542.3 249.9L545.0 250.2L547.7 251.9L549.0 252.3L550.1 253.4L551.8 254.0L553.9 255.1L559.1 255.9L559.5 257.1L559.8 259.8L557.9 259.8L553.4 258.9L551.9 257.7L548.7 257.3L543.1 254.6Z" fill="#feb24c"/>
<path d="M561.1 257.5L562.2 255.5L563.2 254.9L567.3 256.3L568.5 258.7L566.6 258.8L563.5 259.0Z" fill="#ffeda0"/>
<path d="M564.3 273.9L563.9 271.2L563.2 269.0L562.2 267.0L562.3 265.4L560.8 264.8L561.1 263.7L562.4 262.8L560.5 261.5L560.9 259.7L562.9 260.9L564.1 261.0L564.5 262.7L570.2 263.5L569.5 265.7L568.5 265.8L568.1 267.4L569.0 269.4L569.7 267.1L570.3 267.0L572.0 271.2L572.3 273.2L571.8 274.7L571.2 276.0L567.5 273.9Z" fill="#fed976"/>
<path d="M571.8 274.7L572.3 273.2L572.0 271.2L573.1 270.5L572.7 269.5L573.3 268.5L572.7 266.0L574.6 266.5L575.3 264.3L576.4 263.5L575.9 260.9L578.0 257.6L579.8 258.0L579.1 256.4L579.6 255.0L582.1 256.8L583.0 256.7L583.9 261.1L582.2 263.2L582.3 266.2L584.8 265.8L585.7 268.2L587.2 268.8L586.8 270.9L589.3 272.8L591.5 272.5L591.5 272.8L589.8 274.5L589.5 275.6L588.2 276.0L587.1 277.2L585.5 277.3L585.0 280.2L584.1 280.6L585.5 283.0L588.3 286.0L587.8 288.8L587.1 289.4L587.8 290.7L589.5 292.7L590.1 295.9L591.1 297.7L590.0 300.2L589.1 302.8L588.0 304.0L585.2 297.4L583.2 289.6L578.7 289.6L575.6 283.1L572.6 277.9Z" fill="#fd8d3c"/>
<path d="M589.1 302.8L590.0 300.2L591.1 297.7L590.1 295.9L589.5 292.7L587.8 290.7L587.1 289.4L587.8 288.8L588.3 286.0L585.5 283.0L584.1 280.6L585.0 280.2L585.5 277.3L587.1 277.2L588.2 276.0L589.5 275.6L590.6 276.3L591.0 277.9L592.6 278.0L592.8 283.1L594.9 281.5L595.7 281.9L597.0 281.9L599.1 281.1L601.1 283.2L601.7 285.8L603.8 288.0L603.3 291.4L601.2 291.2L598.3 291.6L597.1 293.8L598.8 298.2L598.0 300.1L594.3 297.4L593.1 296.1L593.6 302.7L596.3 309.2L598.8 311.8L597.9 312.6L597.3 313.6L595.8 314.0L595.2 312.5L593.6 311.4L593.3 311.9L590.7 311.8L587.8 308.4L587.6 305.3Z" fill="#feb24c"/>
<path d="M589.5 275.6L589.8 274.5L591.5 272.8L591.5 272.5L592.8 273.5L593.3 270.3L594.9 272.1L596.4 274.6L600.2 275.8L598.6 277.6L601.5 279.9L605.5 284.5L608.2 289.1L608.5 290.4L606.2 290.8L605.3 292.5L603.3 291.4L603.8 288.0L601.7 285.8L601.1 283.2L599.1 281.1L597.0 281.9L595.7 281.9L594.9 281.5L592.8 283.1L592.6 278.0L591.0 277.9L590.6 276.3Z" fill="#ffeda0"/>
<path d="M597.1 293.8L598.3 291.6L601.2 291.2L603.3 291.4L605.3 292.5L606.2 290.8L608.5 290.4L609.0 293.5L609.1 296.5L605.4 298.5L606.5 300.2L604.0 300.3L602.6 301.6L601.7 302.7L598.8 301.9L597.9 298.8L598.8 298.2Z" fill="#fed976"/>
<path d="M593.3 270.3L595.2 270.0L598.5 269.2L600.0 267.9L603.2 269.0L604.5 271.8L607.0 272.5L608.5 275.2L605.5 277.9L607.4 283.1L612.8 288.3L615.5 296.1L613.1 302.7L607.8 307.9L602.0 307.9L602.6 301.6L604.0 300.3L606.5 300.2L605.4 298.5L609.1 296.5L609.0 293.5L608.5 290.4L608.2 289.1L605.5 284.5L601.5 279.9L598.6 277.6L600.2 275.8L596.4 274.6L594.9 272.1Z" fill="#fed976"/>
<path d="M593.3 311.9L593.6 311.4L595.2 312.5L595.8 314.0L597.3 313.6L597.9 312.6L601.2 313.1L603.8 321.0L604.6 326.2L600.4 326.7L594.5 321.0L592.0 314.4Z" fill="#feb24c"/>
<path d="M660.4 326.2L674.3 326.2L688.1 331.4L688.0 335.6L686.9 352.6L686.5 356.2L677.5 354.9L664.6 343.2L660.3 336.6Z" fill="#e31a1c"/>
<path d="M615.3 322.3L615.6 324.1L617.7 326.6L620.7 326.2L621.6 325.0L625.1 325.5L627.2 325.0L628.2 321.5L629.3 319.9L629.3 317.8L633.2 317.4L635.9 318.1L639.3 315.0L635.5 310.0L631.3 309.5L625.4 315.2L621.0 319.9L617.6 322.0Z" fill="#feb24c"/>
<path d="M625.7 316.8L627.0 318.2L628.5 317.4L628.1 316.0L627.1 315.5Z" fill="#e4e9e0"/>
<path d="M115.1 201.2L170.9 201.2L171.9 200.5L173.7 202.2L177.1 203.5L181.1 203.8L183.6 203.0L189.2 206.6L189.5 207.7L191.0 208.6L190.6 210.7L192.4 210.7L191.5 215.0L189.7 217.6L188.0 218.9L188.8 219.9L197.2 217.1L197.6 215.5L202.6 215.0L203.9 213.7L208.3 211.4L214.9 211.4L216.7 210.4L218.1 209.1L219.5 207.1L221.8 205.2L223.5 205.4L224.3 206.0L223.1 209.6L224.0 211.4 M127.8 152.0L103.6 173.3L106.4 174.0L106.7 176.7L112.6 174.5L113.2 177.9L112.2 182.3L114.3 183.7L111.2 186.7 M105.5 243.9L111.0 243.4L110.6 243.9L117.7 246.9L124.1 246.9L124.5 245.7L128.2 245.7L130.8 248.9L130.9 251.5L133.4 253.0L135.7 250.9L138.0 250.9L139.4 254.9L140.7 257.0L141.0 259.8L145.0 261.0 M152.0 290.8L152.0 288.8L153.4 286.9L156.4 286.7L154.5 283.7L155.5 283.7L155.7 282.2L159.9 282.2L162.1 280.5 M159.9 282.2L159.2 287.3 M172.7 289.6L171.0 290.1L169.0 290.1L166.7 292.6L164.2 292.9L164.2 294.1L162.8 294.8 M170.6 300.2L168.4 299.9L166.1 299.8 M173.0 303.9L172.2 305.0L172.0 307.6 M177.6 337.7L177.3 340.3L179.3 340.4L180.7 341.9L182.1 337.7L183.3 336.6L186.1 335.6L188.4 332.8L189.0 331.3L189.0 329.1 M203.1 357.4L205.3 361.5L204.7 362.2L205.2 365.9L204.6 367.2L204.3 369.6L205.4 371.9L204.6 374.5L202.8 376.7 M189.0 329.1L190.1 329.3L192.7 332.1L194.6 335.2L197.1 334.5L201.2 335.9L199.7 338.6L200.7 338.7L201.5 339.8L199.5 339.8L194.8 342.4L194.1 344.6L193.1 346.8L192.4 348.4L194.9 352.3L196.6 353.6L196.9 354.9L200.5 353.6L200.7 357.5L203.1 357.4 M204.6 374.5L206.1 378.4L207.4 379.5L207.0 382.1L208.6 385.0L209.6 388.4L211.2 388.4L211.7 388.9L211.2 391.5L208.8 393.1L210.1 399.1L207.6 403.0L207.9 408.2L207.3 410.8L209.4 415.8L210.4 418.2L209.6 421.0L210.3 423.1L209.2 424.7L210.8 429.9L209.9 432.2L211.7 438.4L213.4 443.1L215.1 445.7L215.5 448.5L216.1 451.3L216.4 455.6L215.0 457.1L217.3 460.7L218.7 460.7L219.7 463.2L220.8 464.0L225.7 464.3L228.1 464.8 M228.0 465.6L230.4 471.2 M211.2 388.4L212.9 385.9L215.5 386.5L217.7 388.5L218.3 386.3L221.3 386.9L225.4 391.0L230.1 393.1L233.3 394.9L231.9 399.9L236.9 400.4L238.4 400.1L240.3 395.7 M221.3 386.9L221.7 382.5L222.7 380.1L228.6 379.4L231.0 381.4 M235.2 407.7L234.9 413.4L235.2 417.6 M231.2 313.3L230.7 315.0L229.3 316.8L228.9 318.3L229.9 320.0L230.5 323.7 M238.4 313.5L237.3 315.7L238.2 319.4L236.8 322.8 M225.2 307.1L223.1 309.1L223.9 310.3L221.9 311.3L221.9 312.6L221.3 313.3L222.8 315.2 M358.0 237.1L359.0 241.8L359.9 244.4L356.1 246.0L354.6 248.1L351.7 250.4L348.3 251.5L343.5 253.8L343.4 256.5 M343.4 257.5L352.0 263.5L365.5 273.7L365.5 274.7L370.0 277.1L370.2 279.2L372.4 278.8L375.9 277.9L379.7 274.2L389.7 267.4 M343.4 257.5L349.3 263.5L347.9 263.5L350.2 285.7L350.0 288.3L341.3 288.4L338.3 288.6L336.5 287.9L334.9 290.1 M343.3 260.9L343.4 257.5 M381.3 232.3L380.5 233.4L380.8 237.4L379.1 240.2L381.2 243.9L382.8 244.9L383.8 249.6L384.8 255.6L383.8 260.1L385.2 264.8L389.7 267.4 M383.8 249.6L385.2 246.5L388.1 242.2 M418.2 246.1L418.3 253.0L419.2 271.3 M389.7 267.4L394.8 269.8L396.6 268.7L417.2 277.9L417.2 276.5L419.4 276.5L419.2 271.3 M419.2 271.3L446.1 271.3 M417.2 277.9L417.5 287.8L415.0 288.0L414.2 292.0L413.6 295.6L415.3 299.0L415.3 300.3 M396.6 268.7L397.8 273.9L398.8 275.5L398.1 284.6L393.6 290.9L393.9 293.0 M372.4 278.8L372.3 286.0L370.7 288.6L365.7 288.8L363.2 289.9L363.7 292.2L365.0 293.8L365.0 295.1L367.8 296.4L368.3 297.7L371.0 298.2 M363.2 289.9L358.2 291.7L354.7 294.1L352.7 296.1L350.6 298.0L350.1 301.5 M350.1 301.5L352.2 303.5L356.3 303.5L356.6 300.1L361.1 300.2L362.8 299.8L364.8 300.1L365.0 295.1 M364.8 300.1L366.0 304.5L366.4 312.6 M364.8 300.1L368.3 297.7 M362.8 299.8L363.7 302.7L363.9 309.2L365.5 312.9 M356.3 303.5L357.0 307.4L355.4 311.8L355.6 315.5 M350.1 301.5L348.5 301.1L346.9 301.9L344.4 302.2L343.7 305.3L345.0 306.9L343.6 308.9L343.4 311.8L345.5 313.6L345.5 317.4 M344.4 302.2L343.7 300.1L342.8 299.0L341.4 296.4L336.6 297.2L336.4 296.4L334.9 290.1 M343.6 308.9L341.1 309.5L339.1 306.6L336.3 310.8 M339.1 306.6L338.4 304.5L337.0 302.7L334.3 302.9L332.2 305.3 M336.6 297.2L334.6 296.7L331.4 295.8L331.3 298.2L328.3 300.1 M331.4 295.8L324.5 296.5 M324.3 294.4L328.2 293.3L331.2 293.9L328.2 294.3L324.3 294.6 M334.9 290.1L332.2 286.7L329.7 285.4L325.1 287.0 M395.3 296.4L396.9 296.9L397.2 302.7L394.8 303.7L398.4 309.2L396.1 312.9L396.4 315.7L399.9 323.1 M398.4 309.2L404.2 307.9L406.4 305.3L412.6 301.1L415.3 300.3 M415.3 300.3L416.7 302.7L417.2 306.1L420.5 308.4L425.9 315.2 M417.2 306.1L419.1 306.1L422.0 301.6L426.9 303.7L429.4 303.5L430.7 302.4L434.7 303.2L437.1 298.2L438.9 296.9L438.7 300.8L441.1 304.0 M446.2 291.4L445.9 289.4L447.0 284.1L450.5 281.8 M459.9 296.1L461.5 295.6 M461.2 300.2L462.0 298.9 M459.4 318.5L457.3 321.5L457.4 331.2L458.7 333.1 M445.7 317.2L441.1 317.8L442.3 320.7L443.5 323.8L441.2 328.8L441.0 331.4 M441.0 331.4L449.7 336.9L449.9 338.5L453.1 341.1 M441.1 317.8L438.8 318.6L434.2 319.4L433.8 319.7L431.9 317.6L425.9 315.2 M425.9 315.2L421.0 315.2L415.3 316.5L414.2 318.3L407.7 315.7L405.6 317.8L405.6 319.7L404.5 322.8L403.8 328.0L401.5 331.9L399.7 336.6L395.9 340.3L395.9 341.6L393.6 341.3L392.7 340.8L390.4 341.9 M385.4 322.8L388.8 323.1L393.4 323.1L396.2 323.1L399.9 323.1L400.1 324.4L404.5 322.8 M385.4 326.2L388.8 326.2L388.8 323.1 M393.4 323.1L393.2 325.4L396.0 325.4L394.8 328.3L396.2 330.1L396.0 333.8L395.3 335.1L391.8 333.8L390.4 335.1L389.5 336.4L390.2 337.9L388.3 339.1 M433.8 319.7L435.0 323.1L431.8 327.2L431.1 332.2L429.6 335.9L430.3 340.3 M431.1 332.2L433.1 331.5L441.0 331.4 M429.6 335.9L433.1 334.9L433.8 331.5 M433.1 334.9L432.9 337.2L431.9 340.3L430.3 340.3 M430.3 340.3L430.9 344.5L433.5 350.2L438.5 353.4 M442.1 359.1L446.5 359.4L449.5 358.3L455.6 356.1 M433.5 350.2L429.2 351.0L428.0 352.8L428.4 356.2L427.9 359.6L431.1 360.5L431.0 363.9L427.8 361.5L425.1 359.1L420.8 358.1L418.7 358.6L417.8 357.3L413.7 358.1L412.9 347.9L407.6 347.1L406.5 349.7L403.0 350.0L401.0 344.2L392.7 344.2L390.9 344.5 M390.9 344.0L392.7 340.8 M417.8 357.3L417.7 362.8L413.1 362.8L412.9 371.1L416.0 374.8L411.4 375.8L404.9 374.3L394.6 374.3L392.4 373.2L389.5 373.9 M416.0 374.8L420.2 375.3L424.2 375.8L428.7 370.3L432.1 369.6L432.2 368.0L439.6 366.8 M411.4 375.8L420.2 375.3L415.7 375.8L410.5 376.6L410.2 386.3L407.9 386.3L407.7 393.6L407.3 403.0L399.5 403.5 M407.7 393.6L409.2 399.1L411.3 398.8L414.4 394.9L419.9 395.9L423.3 390.7L426.6 387.8L429.0 386.8 M420.2 375.3L422.2 379.7L425.5 382.4L426.0 385.2L429.0 386.8 M432.1 369.6L437.7 372.4L437.0 378.2L436.8 382.4L436.0 384.4L433.4 387.3L429.0 386.8 M433.4 387.3L434.5 392.3L434.5 396.5L432.9 396.1L431.6 398.8L434.0 400.1L434.5 398.8L436.3 398.9 M442.8 359.1L442.4 364.1L444.6 366.9L444.4 370.6L443.3 371.1L443.2 373.5L441.2 371.4L441.6 368.0L441.6 366.7L439.6 366.8 M422.6 406.1L425.0 403.8L427.0 404.0L428.0 406.1L425.5 408.7L423.4 408.0L422.6 406.1 M438.7 308.2L441.0 309.7 M440.7 234.8L442.2 234.1L442.0 232.7L445.2 232.4L449.1 232.7L454.2 231.8L458.3 232.1L459.3 231.8L457.7 229.8L458.0 228.5L456.6 225.9L458.2 225.1L455.5 224.0L455.2 221.5L452.6 220.3L450.4 220.3 M417.8 222.5L418.3 219.9L421.7 219.2 M418.3 219.9L415.6 221.0L411.3 220.8L411.1 220.8 M441.0 238.3L442.6 239.4L441.1 241.5L440.7 241.9L439.7 242.3 M441.1 241.5L440.9 244.2L441.0 246.5L440.3 251.7 M438.2 247.0L440.2 251.7 M441.3 243.4L443.6 244.4L447.7 241.7L449.0 244.8 M447.7 241.7L452.2 238.9L452.6 235.8L452.1 233.7L454.2 231.8 M440.3 252.1L442.8 252.5L444.2 250.8L445.8 250.4L446.8 249.1L444.3 246.5L449.0 244.8 M459.3 231.8L461.1 234.8L463.0 237.1L461.9 240.0L463.8 242.6L468.1 246.0L468.1 247.8L468.9 249.2L470.3 250.6 M466.2 252.8L467.5 250.3L469.0 250.4 M458.2 225.1L461.3 227.2L463.1 226.4L465.0 225.4L465.9 226.2L465.4 227.5L467.6 228.5 M455.5 224.0L457.9 221.2L461.1 221.5L460.5 219.5L464.9 219.5 M457.9 221.2L462.2 227.2 M446.3 215.5L451.6 216.1L455.0 217.6L458.7 217.9L460.5 219.5 M478.8 231.2L483.0 229.3L485.8 229.5L490.4 230.8L495.0 233.2L495.5 236.6L494.8 239.7L495.5 242.3L496.9 246.5L499.2 248.2L497.6 250.8 M497.6 250.8L500.2 254.0L502.5 255.0L503.0 257.5L503.9 257.6L504.1 259.2L501.2 260.2L501.0 263.0 M495.0 233.2L498.6 236.6L502.3 234.0L506.0 231.2L508.9 231.8L512.3 230.6L513.7 230.7L516.1 228.8L515.9 232.1L517.4 232.9L524.1 231.5 M497.6 250.8L501.5 252.0L505.4 251.6L509.7 250.8L509.3 247.9L512.0 246.8L515.3 245.5L515.0 243.9L516.7 241.7L515.4 239.8L517.8 239.1L518.4 236.8L517.0 234.5L519.3 232.7L522.5 232.5L523.6 232.0 M506.0 231.2L500.7 227.2L494.0 222.0L489.6 220.7L488.9 218.6L485.5 217.1L484.3 218.6L482.6 219.5L483.4 221.0L481.0 221.0L478.6 211.4L483.3 210.0L489.6 213.1L492.1 215.3L498.0 214.8L501.1 216.7L501.6 219.2L503.6 221.4L506.6 221.7L507.0 222.3L508.5 220.8L511.3 219.2L512.4 218.6 M473.4 219.8L476.2 218.4L480.0 221.0L481.0 221.0 M508.9 231.8L508.6 229.0L506.7 226.4L508.8 225.5L509.6 222.5L512.5 223.8L515.3 223.8L517.5 222.1L514.1 220.5L512.4 218.6L510.5 220.7 M510.1 224.3L513.0 225.4L516.4 226.0L519.9 225.8 M512.4 218.6L511.5 217.1L516.6 216.6L518.1 216.1L521.3 217.1L528.5 217.1L531.5 219.0 M519.9 225.8L520.8 228.0L523.0 228.2L524.1 231.5 M464.2 207.6L458.2 204.0L456.9 202.7L457.6 197.7L460.4 198.9L463.6 194.4L468.5 194.9L471.6 196.4L479.3 196.2L485.0 196.7L481.3 193.9L482.3 191.4L481.7 188.9L489.1 187.8L494.2 186.2L498.8 185.4L501.0 188.4L505.6 188.7L511.1 188.2L511.4 187.5L522.0 196.5L528.6 196.2L534.5 199.7L538.1 201.0 M539.6 200.7L540.4 197.4L546.0 196.7L551.0 197.4L558.0 199.3L558.9 197.4L557.8 193.4L565.5 195.4L566.7 197.4L574.5 197.7L581.1 200.5L585.8 200.8L589.7 199.7L596.7 199.1 M601.3 198.4L600.4 194.5 M627.5 224.6L629.3 221.7L630.1 219.7L633.4 220.7L632.2 219.2L635.0 218.0L636.9 218.0 M633.9 230.2L635.1 228.8L637.6 228.0 M413.7 172.7L417.1 169.8L419.2 167.2L416.0 165.1L416.5 163.4L414.8 162.3L415.1 160.7L412.7 158.0L413.8 156.2L411.0 155.1L411.2 153.2L412.7 151.7 M411.2 153.2L411.6 152.2L409.1 150.9L406.0 151.7L404.9 154.1L402.3 153.9L398.7 152.6L397.3 153.2 M397.3 153.2L402.5 155.5L404.1 159.6L404.7 160.5 M397.3 153.2L396.5 154.6L393.3 154.4L390.9 156.6L387.9 159.8L387.8 162.1L384.5 165.5L384.7 170.0L386.2 170.8L385.2 171.6L385.8 173.8L384.7 175.9L383.4 176.2 M414.6 175.3L413.8 176.9L415.0 179.3L414.2 180.1 M408.6 179.2L412.7 179.9L414.2 180.1 M414.2 180.1L415.7 181.8L416.6 183.4L413.7 184.5 M403.0 183.6L404.8 182.7L410.2 182.7L413.7 184.5 M413.7 184.5L412.4 187.9L408.4 188.8 M408.4 188.8L406.8 187.8L400.7 187.5 M406.8 187.8L406.7 186.4L403.7 185.6 M408.4 188.8L409.7 191.9L409.5 194.9L410.8 197.2L408.3 199.8L408.2 201.0 M416.6 183.4L422.0 184.7L422.2 186.7L426.2 190.4L424.0 190.9L425.5 193.4 M409.5 194.9L416.6 194.7L423.3 195.4L425.5 193.4 M425.5 193.4L430.7 194.2L433.9 197.7L438.9 198.9L443.3 199.7L443.5 204.3L440.7 206.0 M390.4 188.9L391.0 192.1L391.8 194.2L392.6 196.2 M392.6 196.2L395.0 197.0L396.6 198.2L400.1 199.9L401.9 199.8L403.2 200.7L408.2 201.0 M392.6 196.2L388.5 197.8L387.1 198.0L387.8 198.9L390.6 201.8 M390.6 201.8L393.0 201.2L397.0 202.2L397.7 203.8 M397.0 202.2L400.1 199.9 M397.7 203.8L401.0 204.3L404.2 202.5L407.6 202.7L408.2 201.0 M397.7 203.8L396.3 206.6 M390.6 201.8L389.2 205.0L384.1 205.0L382.2 204.9 M382.2 204.9L380.2 204.5L378.2 204.8L375.3 208.4L377.1 209.1L380.0 207.8L381.3 209.2L384.1 206.7L382.2 204.9 M384.1 206.7L387.7 206.3L390.8 207.6L396.3 206.6 M390.8 207.6L391.0 209.6 M377.1 209.1L377.1 212.7L378.4 214.5 M390.8 210.1L394.3 210.1L396.4 207.5L396.3 206.6 M396.4 207.5L401.6 209.1L402.1 211.7 M395.3 210.9L397.9 210.9L402.1 211.7L403.1 214.0L401.6 218.0L396.0 214.0L395.3 210.9 M407.6 202.7L405.8 208.1L404.2 208.5L401.6 209.1 M404.2 208.5L407.1 211.9L409.9 213.5L409.6 216.6L411.3 220.8 M403.1 214.0L402.8 215.3L405.3 217.1L406.1 219.4L409.8 218.4 M403.6 219.4L405.3 217.1 M406.1 219.4L406.1 221.7L407.2 222.1L405.4 225.1 M407.2 222.1L411.1 220.8 M409.9 213.5L415.9 214.9L418.9 213.6L422.3 214.6 M407.6 202.7L413.4 204.4L416.7 203.1L420.5 207.3L420.9 210.3L424.1 210.9 M416.7 203.1L422.1 204.0L424.5 207.8L420.9 210.3 M379.3 186.4L381.1 186.6 M376.4 190.3L376.6 192.1L374.6 194.2L374.7 196.8 M369.4 195.2L372.3 195.0L374.7 196.8L375.0 198.4L374.4 199.8L372.4 198.7L371.0 198.8L367.8 195.9 M375.0 198.4L375.6 199.9L379.3 201.2L378.2 204.8 M374.4 199.8L375.6 199.9 M359.0 215.7L364.2 217.1L369.3 218.0 M344.0 219.4L349.7 220.2L348.1 223.8L347.8 225.1L346.8 225.3L347.7 229.0L346.8 231.6 M348.5 186.2L347.0 187.5L348.6 188.3L350.7 188.4 M483.8 285.3L480.8 279.2 M478.8 265.8L480.0 268.7L486.8 269.6L487.3 269.5L488.3 266.1L488.5 263.6L489.4 263.7 M476.9 264.1L477.8 264.5 M688.0 335.6L686.9 352.6" fill="none"/>
</g>
<path d="M107.3 148.3L113.1 149.4L118.5 150.2L123.9 151.1L127.8 152.0L132.6 153.5L137.3 152.4L145.2 151.3L151.5 150.2L152.6 150.0L154.2 152.2L161.6 151.5L166.2 153.5L168.4 155.5L175.8 155.7L177.4 157.7L181.1 155.5L186.2 155.5L192.6 155.9L197.4 154.4L200.2 155.1L202.6 152.2L209.7 147.0L211.2 148.9L210.3 152.0L211.2 153.9L212.7 156.4L216.1 154.2L220.6 151.5L226.3 151.7L225.5 154.4L222.8 156.6L222.6 158.2L218.4 159.3L214.0 158.9L210.7 161.6L207.2 164.1L201.2 165.8L197.8 167.4L192.9 170.5L191.0 171.4L188.4 174.0L187.2 176.9L187.0 181.3L192.3 181.3L196.5 183.7L199.4 185.4L204.4 185.7L201.8 191.1L202.6 194.2L203.0 195.4L206.2 194.9L208.4 191.1L209.2 186.9L215.6 183.7L218.2 180.5L216.4 176.9L219.9 174.0L222.3 168.3L223.3 168.1L229.2 168.8L232.1 170.2L235.0 171.6L233.5 176.4L235.6 177.9L241.2 174.3L244.2 173.3L245.4 178.8L245.7 182.5L247.3 185.7L250.5 187.4L251.6 189.9L253.0 193.1L250.8 194.9L246.6 195.7L242.8 197.9L234.8 197.9L229.7 198.2L226.9 200.5L223.1 202.5L217.6 206.6L222.5 204.3L227.6 201.2L233.0 201.5L230.8 203.8L230.4 206.3L231.3 208.4L236.1 209.6L239.1 206.3L239.6 208.9L232.2 212.2L226.1 215.3L225.3 213.2L229.7 210.4L225.3 211.2L224.0 211.4L220.5 213.2L216.9 214.5L214.7 216.8L214.5 217.6L215.3 219.7L212.5 220.5L207.2 221.7L205.8 222.8L205.1 225.1L202.7 226.9L201.8 225.6L201.9 228.2L199.1 231.9L199.1 228.2L198.2 232.1L198.7 236.6L195.7 238.1L192.3 240.2L189.2 242.1L184.4 245.7L182.7 249.1L183.4 254.3L183.7 258.8L182.6 262.7L180.7 263.2L179.6 260.4L178.1 256.2L179.0 253.0L177.3 250.7L176.0 250.4L173.6 251.2L171.4 249.4L168.0 249.4L164.6 249.9L164.6 252.8L161.8 252.5L158.7 251.5L154.7 251.2L152.3 252.3L149.1 254.3L146.0 256.4L145.0 261.0L142.7 266.1L142.0 270.5L142.5 274.5L144.4 278.4L146.9 280.2L148.1 281.3L151.9 280.5L154.2 280.2L156.9 278.4L158.1 274.5L158.4 273.9L162.7 272.6L166.1 272.6L166.3 274.5L164.3 277.3L163.4 281.0L162.3 280.5L161.8 282.8L161.7 285.7L159.9 287.3L160.5 287.8L162.6 287.3L166.5 287.3L168.8 287.1L171.1 287.4L172.7 289.6L171.6 293.5L171.1 296.7L170.7 300.1L172.1 302.7L173.2 304.0L175.4 305.7L177.7 305.0L180.1 303.9L182.3 304.1L184.8 306.1L183.4 310.0L182.6 307.6L181.1 305.5L179.2 306.6L178.0 307.4L178.6 309.2L176.5 309.7L175.2 308.4L173.7 307.4L172.0 307.6L170.7 306.6L170.3 305.3L168.1 303.5L167.2 303.7L165.7 301.6L166.1 299.8L164.2 297.4L162.3 295.1L162.6 294.3L160.1 294.3L157.2 293.3L156.6 292.7L154.1 292.4L152.0 290.8L148.5 287.0L146.5 286.5L142.5 287.8L139.2 286.5L135.1 284.6L131.1 282.3L127.5 280.7L125.8 278.6L123.6 276.5L124.6 273.4L124.1 269.5L122.1 266.4L119.9 263.0L117.7 260.9L117.2 258.0L115.4 255.6L113.4 253.0L113.1 248.3L113.0 247.0L110.2 245.7L109.5 247.8L110.5 253.0L111.4 256.2L113.2 260.1L114.1 264.0L114.9 265.6L116.0 267.9L114.8 269.0L114.3 267.4L111.0 264.5L111.4 260.9L109.0 258.8L106.5 256.2L108.6 254.3L106.4 250.4L105.7 246.0L105.5 243.9L105.6 242.6L103.9 240.5L102.5 239.6L100.1 238.7L100.4 236.8L99.3 233.2L99.4 230.1L99.0 228.8L98.9 225.4L98.7 223.3L101.3 219.7L101.9 217.1L105.3 212.7L108.4 208.4L110.3 202.7L113.4 203.2L112.9 205.5L114.7 203.0L115.1 201.2L114.8 200.5L113.1 198.2L110.0 196.4L110.1 194.2L111.1 191.1L110.8 187.9L111.2 186.7L110.4 185.0L109.7 182.5L111.2 178.8L109.5 177.6L106.9 178.4L105.7 177.2L104.7 175.0L102.9 174.0L98.3 174.0L96.5 173.1L95.3 171.6L89.8 173.3L86.7 174.5L81.4 175.9L85.4 172.8L89.5 171.2L86.2 171.6L81.7 174.0L78.0 175.7L74.0 178.1L67.2 180.8L60.3 183.7L54.8 185.0L48.1 186.7L44.1 187.2L49.2 185.7L54.8 184.0L61.0 181.8L65.7 180.1L68.7 177.4L67.3 176.9L64.0 176.9L60.3 177.4L63.2 175.2L60.3 174.5L59.5 172.8L62.5 171.2L61.5 170.2L66.2 167.9L68.6 166.7L73.4 165.8L76.3 165.5L79.6 163.2L76.4 163.4L72.8 163.4L69.9 163.0L69.9 160.9L74.5 159.6L78.9 158.9L79.1 159.8L82.0 159.8L84.8 158.0L82.5 157.5L83.5 156.2L82.2 155.3L81.4 154.6L83.9 153.5L88.4 153.3L91.8 151.5L96.7 150.4L101.6 149.4Z M235.4 143.2L240.6 143.6L241.1 145.1L242.7 147.2L246.7 148.5L249.6 150.4L249.7 152.8L251.1 154.8L256.4 157.7L256.4 159.3L250.5 162.3L248.9 165.5L245.4 167.2L240.6 167.9L243.3 169.5L239.2 168.8L234.8 166.9L231.3 163.7L225.9 163.9L226.0 162.3L233.7 161.1L235.9 158.9L239.0 156.6L236.7 154.8L233.5 153.3L231.7 151.1L226.6 151.3L222.0 150.9L216.9 150.0L216.2 147.8L219.8 144.7L226.9 143.0L228.2 144.2L231.7 145.7Z M169.1 150.0L171.9 152.8L172.0 154.4L179.0 154.2L184.7 153.5L187.2 154.4L192.8 152.8L193.6 151.1L191.1 149.4L192.9 146.8L194.0 144.9L190.7 144.2L186.6 145.1L181.8 145.1L180.6 144.0L174.6 145.1L169.5 147.4L173.4 148.3Z M160.5 146.8L161.7 148.5L166.6 147.8L170.6 145.7L178.7 143.6L178.9 142.2L173.4 141.5L166.6 143.2Z M227.6 137.5L231.5 138.1L236.5 137.7L240.7 138.1L245.2 136.5L250.5 134.2L253.4 132.7L260.4 131.4L267.9 129.5L273.2 128.3L277.3 126.9L270.0 126.0L260.6 125.8L250.5 126.3L242.9 126.9L236.1 127.8L235.4 129.5L240.2 130.2L237.7 131.8L238.6 132.9L232.8 134.2L230.8 135.9Z M227.6 129.5L231.3 130.5L233.8 132.7L233.0 134.0L228.3 134.2L225.5 132.3L224.4 130.9Z M216.2 137.5L221.9 138.5L225.5 139.5L231.9 139.3L238.1 140.9L238.0 139.3L234.8 137.9L227.4 137.7L223.7 136.9L219.6 136.5Z M184.2 138.1L185.4 140.7L190.6 141.5L198.1 140.5L201.0 138.7L197.5 137.3L190.3 138.1Z M204.8 137.5L205.4 139.5L210.5 140.5L214.7 139.5L214.2 137.3L210.1 136.9Z M200.1 143.6L199.8 146.3L203.2 147.8L207.6 145.7L208.7 143.0L204.4 142.6Z M212.3 142.6L210.6 145.1L211.5 146.8L217.5 145.5L220.7 142.8L217.2 142.4Z M196.2 152.8L198.4 154.2L202.3 153.5L202.5 151.3L199.2 151.3Z M210.7 161.6L211.1 166.2L215.6 164.8L218.5 165.8L220.7 164.6L219.1 163.4L216.3 161.1L214.4 160.0Z M175.1 138.1L179.0 139.1L186.0 137.9L185.6 136.1L180.2 136.7Z M209.7 132.7L214.3 134.8L219.0 134.6L218.0 133.0L213.4 132.1Z M242.1 204.8L248.3 206.6L252.3 206.8L254.3 207.1L255.5 204.8L254.0 202.2L254.2 199.9L250.9 198.9L251.8 194.9L248.6 196.9L245.3 200.7L242.5 203.2Z M107.2 196.7L109.3 200.2L110.2 202.5L112.9 202.7L113.4 200.7L112.2 198.4L109.0 196.4Z M104.6 188.4L106.7 188.9L104.4 193.1L103.4 191.6Z M71.9 179.6L75.0 180.5L76.6 178.8L75.2 178.6Z M233.6 199.2L237.8 201.0L238.5 200.7L235.4 199.2Z M170.9 271.6L173.2 269.5L176.1 268.5L179.7 268.2L183.4 269.5L186.7 270.5L188.7 272.1L191.5 273.9L194.6 275.8L194.3 276.4L191.1 276.8L186.6 276.9L187.9 275.0L185.5 274.7L184.9 272.4L182.2 272.0L178.0 270.8L177.3 269.8L174.7 270.8L173.0 271.6Z M193.5 280.9L195.9 281.3L198.4 281.3L199.6 281.6L200.1 277.3L197.7 276.8L196.3 277.2L197.5 278.4L198.2 280.2L195.7 280.3Z M187.7 263.0L188.0 265.6L188.2 265.3L187.9 263.0Z M188.5 259.0L189.9 260.1L190.5 259.6L188.9 258.5Z M186.3 259.0L188.2 259.6L188.3 259.0L186.6 258.8Z M60.6 153.3L63.0 155.1L64.9 156.6L67.6 157.7L68.7 159.8L64.5 161.1L59.0 163.2L56.3 163.9L52.2 163.7L52.9 161.4L49.6 161.8L47.2 162.3Z M69.7 147.8L72.9 147.8L72.3 148.7L67.5 149.1Z M57.3 165.5L59.1 166.5L61.2 166.5L59.8 165.3Z M55.0 173.6L56.6 174.5L58.2 173.3Z M8.9 277.2L9.7 278.9L11.4 277.9L11.0 276.5L9.6 275.9Z M8.1 274.2L9.6 274.7L9.1 273.9Z M5.0 272.5L6.1 273.2L5.7 272.1Z M2.0 271.1L2.8 271.5L2.8 270.8Z M184.8 306.1L186.1 307.9L187.3 305.5L189.0 304.0L189.4 301.4L190.9 299.8L192.5 299.3L194.8 299.3L197.2 297.7L198.4 296.3L199.3 296.7L199.2 298.0L197.8 299.5L198.4 300.6L199.8 300.1L201.7 298.8L202.3 296.9L202.9 298.8L205.8 299.5L206.2 301.1L210.8 301.1L213.4 302.4L215.1 301.6L218.1 300.8L220.6 300.8L219.0 302.2L221.2 303.2L222.7 306.3L225.2 307.1L228.1 309.7L230.3 312.3L231.2 313.3L234.0 313.4L238.4 313.5L240.9 314.7L243.3 317.0L243.8 318.0L245.2 318.6L245.8 323.1L247.4 326.2L246.4 328.3L249.0 328.8L250.8 329.6L252.0 330.6L256.6 331.7L260.1 334.0L260.6 335.9L262.9 335.1L267.0 336.4L270.5 336.2L274.0 338.5L277.0 341.3L281.4 342.4L282.5 347.3L282.5 350.0L280.7 354.1L277.8 357.5L274.6 362.8L273.6 367.5L274.1 371.9L272.9 375.8L272.5 380.0L271.4 381.8L270.1 385.5L270.1 386.3L268.0 388.8L265.3 388.8L262.0 389.7L258.6 391.5L255.2 394.1L253.9 396.7L254.3 400.9L254.2 403.5L252.4 405.3L251.5 408.5L249.9 411.1L248.2 412.9L246.0 417.0L245.4 418.7L243.2 420.1L240.4 420.0L236.7 418.8L235.2 417.6L235.5 419.2L238.5 421.0L238.7 423.4L240.4 425.2L239.3 428.1L237.0 429.6L232.4 430.7L229.5 430.1L230.3 432.0L230.7 434.8L227.9 436.2L224.9 435.3L225.6 437.1L228.8 438.7L229.4 440.2L227.4 439.7L226.7 441.0L227.4 445.1L225.4 446.7L224.0 448.7L224.2 450.0L228.2 451.6L229.1 453.6L226.6 456.4L227.1 458.7L225.0 459.7L226.2 462.9L228.1 464.8L226.1 465.2L223.9 466.5L224.1 468.7L220.1 467.2L215.5 464.5L213.6 461.4L210.5 456.4L208.3 451.3L207.9 450.3L209.1 447.5L208.3 442.3L206.9 437.9L206.0 433.3L204.9 428.1L204.1 426.0L204.9 424.7L205.1 421.5L205.8 416.3L205.8 415.0L204.9 409.8L204.5 406.9L203.6 403.3L204.3 399.3L204.4 395.4L204.2 390.5L204.2 386.3L203.8 381.6L202.9 376.9L200.2 374.3L197.5 372.4L193.9 370.3L191.0 368.8L188.2 365.1L186.8 361.5L185.9 360.3L184.4 357.5L183.1 354.9L182.1 352.6L180.8 350.0L178.8 346.8L176.4 344.5L175.9 344.0L175.3 341.0L176.2 339.0L177.6 337.7L178.4 335.9L177.5 335.6L176.1 334.8L175.9 334.5L176.5 331.4L177.0 329.8L177.9 328.8L178.1 327.0L180.5 325.9L180.9 325.0L180.9 324.1L181.9 322.0L184.0 320.2L185.2 318.6L184.1 317.0L184.7 314.4L184.3 311.3L183.4 310.0Z M228.0 465.6L229.1 466.5L231.2 468.4L234.0 469.9L236.7 470.5L236.9 471.4L234.2 471.9L234.1 473.8L232.4 472.9L229.2 472.2L225.8 471.2L223.3 469.9L224.8 468.9L225.8 467.7L224.7 466.0L226.3 465.2Z M350.0 235.3L351.3 235.0L354.1 236.8L356.2 236.6L358.0 237.1L360.6 235.5L361.4 235.5L364.9 233.7L369.2 232.7L373.5 232.7L377.9 232.1L381.3 232.3L383.9 231.4L385.0 232.7L386.5 231.9L385.7 233.7L385.7 235.3L386.9 236.8L384.8 239.2L384.6 240.2L386.8 241.0L388.1 242.2L391.7 242.8L396.2 244.2L397.1 246.5L401.4 248.1L404.8 249.6L406.9 248.1L407.0 244.9L409.9 242.8L413.5 243.6L418.2 246.1L422.3 246.8L426.8 248.2L428.7 247.3L431.1 246.2L434.0 247.0L438.2 247.0L440.2 251.7L439.4 255.6L439.2 256.3L437.6 254.9L435.3 251.2L434.9 250.6L435.1 252.3L437.0 255.6L438.2 257.7L440.1 261.7L442.6 266.1L443.2 268.7L446.1 271.3L446.9 273.9L447.1 277.6L447.9 279.9L450.5 281.8L452.2 287.0L452.9 288.0L454.4 289.6L456.9 290.9L459.8 294.3L461.5 295.6L462.0 297.4L462.1 298.8L460.9 298.5L462.0 298.9L463.8 301.5L466.1 301.6L469.5 300.8L471.8 299.8L475.2 299.3L479.2 297.6L480.3 297.8L480.1 301.6L479.5 304.5L477.8 307.9L475.6 313.1L473.4 317.0L468.9 322.5L467.3 323.6L464.3 326.2L460.8 329.8L458.7 333.1L457.1 334.5L455.5 336.1L454.2 339.4L453.1 341.1L452.1 344.5L453.2 346.6L453.6 349.7L453.3 352.3L454.2 354.9L455.6 356.1L455.6 361.5L455.6 366.7L456.0 368.0L454.0 371.4L449.3 374.0L446.7 375.6L445.0 378.2L441.8 380.7L441.9 383.7L442.9 386.3L442.7 391.0L441.4 393.1L437.9 394.6L435.8 396.6L436.3 398.9L435.1 403.3L433.4 404.6L431.5 406.9L429.4 410.3L426.2 414.0L423.9 415.0L420.7 417.1L418.9 417.6L416.2 418.2L411.9 417.6L406.3 419.7L403.1 418.5L403.0 417.4L402.0 414.2L403.1 411.6L401.1 407.2L399.5 403.5L396.7 399.1L396.2 394.1L395.4 388.6L393.1 383.4L391.1 378.4L389.5 373.9L389.7 370.6L390.4 368.5L391.4 363.8L393.5 361.2L394.4 357.5L393.1 351.8L392.2 347.1L390.9 344.5L390.4 341.9L388.3 339.1L384.9 335.1L383.1 330.6L384.2 328.5L384.9 326.2L385.4 322.8L385.1 318.6L383.3 316.9L382.3 316.4L378.9 317.3L376.6 317.6L374.3 314.2L372.7 312.3L370.6 312.1L369.0 312.2L366.4 312.6L365.5 312.9L364.8 313.6L362.3 314.3L358.1 316.4L355.6 315.5L353.5 315.1L348.9 316.5L345.5 317.4L342.0 315.7L337.9 312.3L336.3 310.8L334.0 309.5L332.4 306.6L332.2 305.3L331.3 304.0L329.2 301.4L328.3 300.1L326.1 298.0L324.5 296.5L324.3 294.6L324.5 292.7L322.8 290.4L325.1 287.0L325.6 284.4L326.4 281.5L325.3 278.1L326.0 276.0L324.2 274.5L324.3 272.9L326.0 270.0L326.7 266.9L329.3 264.3L330.3 260.6L332.8 258.3L333.8 256.4L337.1 254.6L340.1 252.3L341.3 249.4L341.1 246.5L343.0 243.4L346.1 241.0L347.9 240.0L349.3 237.4Z M475.8 360.2L477.5 366.7L478.1 369.0L476.1 371.9L475.1 375.8L473.3 382.4L470.8 388.4L468.5 393.9L464.8 395.5L461.6 394.1L461.0 389.9L460.6 386.3L463.2 381.1L463.6 377.1L463.0 373.2L465.2 371.1L468.4 369.8L471.3 367.7L472.6 364.9L474.6 362.0Z M461.9 358.6L462.5 359.9L462.0 359.9Z M308.4 288.8L309.1 289.4L308.8 289.9Z M305.1 284.1L305.8 284.1L305.6 284.6Z M377.8 327.8L378.3 328.3L377.8 328.8Z M438.2 247.0L438.9 245.7L439.4 243.1L439.7 242.3L440.3 240.2L441.0 238.3L440.4 235.3L440.7 234.8L441.0 233.2L439.7 233.2L437.5 232.7L435.7 234.4L433.1 234.5L429.7 232.5L428.8 232.5L428.5 234.0L425.6 232.9L423.6 232.7L421.9 232.1L421.2 229.8L419.4 228.8L420.4 228.2L419.9 226.2L418.4 225.6L418.5 224.2L417.8 222.5L415.7 222.0L414.4 222.0L413.2 223.0L414.4 224.0L413.4 224.5L412.5 223.8L411.3 223.0L410.8 224.3L411.8 226.2L411.7 227.2L413.1 228.2L414.5 229.5L414.4 230.5L413.2 229.5L412.7 231.1L412.0 230.8L412.9 233.6L411.4 233.7L409.6 232.7L408.6 230.3L409.3 228.8L408.0 228.6L407.0 227.2L405.8 225.4L405.4 225.1L403.9 223.3L403.9 220.5L403.6 219.4L401.6 218.0L399.4 216.6L397.0 215.3L394.3 213.5L393.6 211.4L392.5 210.7L391.5 211.9L390.8 210.1L391.0 209.6L389.7 209.6L388.1 210.7L388.6 211.7L388.3 213.2L390.9 215.0L392.5 217.9L394.5 219.4L396.9 219.4L396.3 220.5L398.7 221.5L400.9 222.7L402.1 224.0L401.8 224.9L400.8 223.7L399.0 223.0L398.1 224.3L398.0 225.4L399.4 226.9L398.3 227.5L398.2 228.5L397.3 229.7L396.4 229.5L396.8 228.0L397.4 226.9L396.4 224.6L395.3 224.3L394.4 223.3L393.4 222.8L392.6 222.1L391.5 221.2L389.3 220.6L388.5 219.8L387.1 218.4L385.8 217.9L384.7 216.7L384.2 215.3L383.8 214.0L383.1 213.9L381.2 213.0L379.6 214.3L378.4 214.5L377.2 215.5L375.3 216.4L373.9 215.8L372.1 215.5L370.9 215.3L369.2 216.3L369.3 218.0L369.5 219.4L367.4 220.8L364.6 222.5L362.1 225.6L363.2 227.6L361.7 228.8L361.2 230.5L358.7 232.3L358.0 232.8L355.2 232.9L353.2 232.9L351.2 234.4L350.6 234.8L349.1 233.4L348.9 232.4L346.8 231.6L345.5 232.1L343.4 232.1L343.9 229.5L343.0 228.5L342.4 227.6L342.9 225.9L343.8 223.8L344.5 221.4L344.0 219.4L343.3 216.6L346.1 214.6L350.2 215.0L354.8 215.3L359.0 215.7L359.6 215.3L360.3 212.3L360.5 210.0L360.3 208.5L358.5 206.6L358.3 205.7L357.0 205.0L354.0 204.3L353.0 202.9L355.7 201.7L358.7 202.1L359.5 202.1L358.9 199.4L360.1 199.4L360.5 200.3L363.0 199.9L365.0 198.8L365.9 196.9L366.4 196.3L367.8 195.9L369.4 195.2L370.1 194.2L370.8 193.6L371.8 192.4L372.1 191.3L373.3 190.6L376.2 190.2L376.8 189.4L378.3 189.4L379.4 189.7L380.1 188.9L379.4 187.8L379.3 186.4L378.3 184.8L378.1 182.3L379.0 181.0L381.4 179.8L382.7 179.5L382.5 182.5L383.5 182.7L382.2 183.5L382.0 185.7L381.1 186.6L382.1 187.5L384.1 187.7L383.9 188.7L386.2 188.3L388.7 187.2L390.4 188.9L394.1 187.9L398.1 186.7L398.9 187.7L400.7 187.5L401.3 186.3L403.3 185.4L403.0 183.6L402.6 181.8L403.5 179.9L405.3 179.5L406.9 181.2L408.2 181.2L408.6 179.2L408.6 178.0L406.6 177.4L406.4 175.9L408.6 175.3L410.8 175.0L414.6 175.3L416.2 174.3L418.4 174.1L415.6 173.1L413.7 172.7L408.8 173.7L405.2 174.4L403.5 173.1L401.8 171.6L401.8 170.2L401.1 168.3L400.5 166.9L402.7 165.3L405.8 163.0L407.3 162.3L406.7 160.9L404.7 160.5L401.4 160.9L400.2 162.8L399.9 164.1L398.8 165.3L396.2 166.9L394.9 168.1L394.1 170.0L394.2 172.4L396.8 173.6L397.7 174.7L396.3 175.7L395.4 177.2L394.1 178.8L393.8 181.3L393.3 183.2L391.0 183.4L390.0 185.2L387.7 185.2L387.0 183.7L386.5 182.3L385.2 179.8L383.6 176.7L383.4 176.2L382.5 174.3L381.9 176.4L379.6 177.6L377.8 178.6L375.9 178.8L373.4 176.7L372.3 174.0L371.9 171.6L371.8 169.3L374.4 167.6L377.0 166.0L380.1 165.1L381.3 163.4L383.7 161.1L384.8 158.9L386.7 157.1L388.2 155.5L389.7 153.7L391.9 152.2L394.3 151.3L397.5 150.7L400.6 149.8L404.9 148.6L408.6 148.9L411.3 149.6L414.0 150.4L412.7 151.7L414.0 151.5L417.9 152.4L423.1 153.1L430.8 155.9L433.6 158.2L432.0 159.6L428.6 159.8L423.1 158.6L419.6 158.4L418.5 157.5L420.7 159.6L423.8 162.3L424.1 163.4L427.4 164.6L429.5 163.9L429.5 162.8L433.2 163.2L434.1 163.3L432.5 161.1L435.2 158.9L439.1 160.0L438.3 157.7L436.1 154.2L440.8 155.5L441.3 157.7L442.7 158.2L445.3 156.2L448.9 154.6L453.2 154.8L455.5 154.2L459.6 153.9L463.2 154.4L464.0 152.8L462.8 151.5L471.1 153.5L473.8 153.7L477.8 154.8L478.7 153.5L474.1 151.5L472.2 148.9L473.6 146.8L473.9 144.9L479.3 145.1L481.2 148.5L484.5 152.2L485.0 155.5L487.3 159.3L489.2 158.2L488.3 155.5L488.4 153.7L486.3 151.1L484.0 147.8L484.4 146.1L487.7 146.1L490.6 147.8L493.0 146.8L490.6 143.6L498.3 142.6L497.7 140.3L503.8 138.7L512.3 138.1L515.4 137.5L518.1 135.1L522.4 135.9L530.8 137.1L537.0 138.9L534.9 141.5L534.9 143.6L540.5 143.0L543.4 143.4L550.7 143.6L559.2 144.0L562.3 142.8L570.9 145.7L573.3 148.3L578.5 149.1L578.5 147.8L583.1 147.6L587.2 148.3L589.0 147.2L587.5 145.7L588.5 145.1L597.8 145.9L606.7 147.6L610.0 148.3L617.2 148.7L626.6 150.7L632.2 152.2L635.4 151.5L641.0 152.0L641.9 151.1L645.2 150.9L648.9 153.3L650.0 151.3L655.7 151.7L664.9 153.3L678.3 162.3L676.9 162.8L674.9 163.0L682.5 166.5L687.2 168.6L685.7 168.6L681.8 169.3L679.1 170.0L676.7 171.6L676.8 174.1L669.7 173.3L666.8 174.0L664.6 174.5L667.9 177.6L667.4 179.3L674.1 183.2L674.9 186.2L675.8 187.4L675.4 190.4L673.6 191.4L674.6 196.4L669.9 193.6L665.6 188.7L660.1 183.7L658.3 179.6L659.5 178.1L658.2 174.5L660.5 172.6L659.2 170.0L657.8 168.1L657.7 170.2L653.8 170.0L656.3 172.6L647.7 170.2L648.5 175.2L650.6 175.9L644.5 176.7L641.9 175.1L638.4 175.0L632.4 175.5L628.0 175.7L627.0 179.3L625.3 182.5L623.9 186.7L629.4 189.2L632.5 189.4L637.1 190.6L638.6 190.4L641.4 193.1L644.2 198.7L646.6 202.5L646.4 207.3L645.7 212.5L644.6 215.5L641.5 217.4L638.6 216.3L637.3 218.4L636.8 220.7L637.5 222.3L634.4 224.9L634.9 226.2L637.7 228.0L641.9 232.1L643.3 234.8L643.7 236.6L643.3 237.1L640.8 237.9L638.7 239.2L637.4 237.1L636.2 233.4L636.3 232.1L635.1 230.6L632.2 230.3L630.8 229.3L630.7 227.7L629.4 225.4L627.5 224.6L624.9 225.4L622.3 227.5L622.4 225.6L621.9 222.8L619.0 222.1L617.2 224.6L614.7 226.4L614.6 227.5L618.0 229.8L619.1 231.4L622.2 230.1L626.5 231.1L624.2 233.2L623.4 234.8L622.3 237.4L625.7 240.5L628.2 243.6L631.3 246.0L632.0 248.1L630.1 249.6L632.9 250.7L633.4 254.3L631.9 256.2L630.9 260.9L629.5 264.3L628.1 265.3L625.7 267.9L622.0 269.5L620.6 270.5L619.1 271.1L615.9 272.1L612.7 273.7L612.8 275.5L611.0 272.9L608.0 272.1L606.9 272.6L604.5 274.5L603.0 277.9L602.9 279.9L605.1 282.6L607.8 285.4L609.8 286.7L611.9 290.9L613.1 294.8L613.4 297.7L612.6 299.3L609.1 301.6L607.9 303.5L605.3 305.5L603.8 306.3L603.6 303.2L602.7 301.6L600.6 301.1L599.0 298.8L598.8 298.2L597.0 296.7L594.2 295.6L593.7 293.7L591.7 294.1L591.9 297.4L590.5 301.4L591.0 304.8L592.7 306.6L593.8 309.7L595.3 310.8L597.9 312.6L600.1 314.4L601.2 317.0L601.2 319.7L601.5 322.0L603.2 325.1L601.6 325.4L599.2 323.3L596.4 321.2L594.9 318.3L594.0 314.7L593.5 312.1L592.0 310.0L590.3 307.9L588.9 307.9L588.7 305.3L589.3 302.7L588.7 298.8L588.7 296.1L587.4 292.7L586.2 289.6L585.3 285.7L583.5 284.4L582.1 285.7L580.3 287.7L577.9 287.0L577.9 283.1L577.0 279.9L575.0 277.1L573.3 276.0L571.7 274.7L570.0 270.5L568.1 270.0L567.2 271.3L564.1 271.8L561.6 272.1L559.5 272.9L559.3 275.2L557.3 277.1L555.5 278.9L552.3 282.6L550.3 285.4L548.2 286.2L547.4 287.5L545.8 289.6L546.3 293.5L546.6 294.6L545.8 297.7L546.1 301.9L544.3 304.5L542.5 305.5L541.2 307.7L538.9 305.5L537.8 302.7L536.7 299.3L534.2 295.1L532.1 290.1L531.2 288.3L529.7 284.4L528.2 279.3L527.5 276.5L527.5 273.7L526.8 272.1L526.0 270.8L525.9 273.9L523.3 274.7L519.1 271.3L518.5 270.5L521.3 269.0L517.8 268.2L516.3 266.9L514.4 266.1L513.3 264.0L511.9 262.4L507.5 263.0L503.0 263.0L501.0 263.2L498.5 262.7L494.6 262.2L491.2 261.4L489.9 258.3L488.5 257.9L485.1 259.3L482.4 259.0L479.9 257.0L477.3 255.9L475.7 253.3L473.7 250.2L471.2 249.4L470.3 250.6L469.1 250.4L469.1 251.5L470.0 254.1L471.6 256.7L474.1 258.8L475.0 260.4L475.3 262.2L476.9 264.1L476.8 261.9L477.4 260.6L478.5 262.7L478.7 264.5L478.3 264.8L478.8 265.6L481.1 265.6L484.2 265.8L485.3 264.8L486.8 262.7L488.3 260.7L489.0 260.0L489.1 261.9L489.4 263.7L490.5 265.3L492.7 266.8L494.7 267.1L497.7 270.0L496.8 272.9L495.3 275.5L493.7 276.0L493.8 279.2L492.2 279.4L490.8 282.0L488.4 283.1L486.0 284.4L483.8 285.3L481.9 288.0L479.2 289.2L475.0 290.9L472.6 292.2L469.2 293.8L465.8 295.4L462.4 295.8L461.7 294.1L460.8 290.1L460.2 287.8L460.3 286.0L458.3 282.6L456.3 279.9L454.6 277.1L451.4 272.6L450.5 269.2L448.2 265.8L446.2 263.0L444.7 260.9L442.2 257.5L440.7 255.4L439.8 255.4L440.3 251.7Z M351.3 198.6L354.4 197.8L356.0 197.2L358.8 197.2L360.8 196.8L363.3 196.8L365.5 195.8L364.7 195.3L363.9 194.9L365.9 193.4L366.1 191.9L363.5 191.1L362.9 189.9L362.4 188.4L360.4 187.2L359.9 185.7L358.9 184.2L357.0 183.7L357.8 182.5L359.0 179.6L356.2 179.6L355.0 179.8L357.0 177.4L353.4 177.4L351.8 179.8L352.1 182.5L351.0 182.0L352.0 185.4L353.5 185.0L353.3 186.9L356.0 186.4L356.9 188.7L356.7 190.2L354.2 190.4L354.7 192.4L352.5 193.9L355.0 194.7L356.8 195.2L354.2 195.9L352.6 197.7Z M342.8 194.2L345.9 194.7L350.1 193.1L351.0 190.2L350.7 188.7L352.1 187.4L350.8 185.7L348.5 185.4L346.8 185.9L346.1 187.9L343.4 188.2L343.4 190.2L344.6 190.9L343.9 192.1L342.4 193.4Z M320.2 161.1L324.7 159.1L325.8 161.1L331.2 159.8L334.8 158.9L337.4 160.0L338.9 162.1L336.4 163.9L330.7 165.8L326.6 165.8L322.7 164.9L324.1 163.7L320.6 162.5L324.2 162.1Z M378.4 131.8L382.9 131.2L387.1 130.9L391.7 131.8L394.2 133.0L390.8 134.0L390.8 135.5L388.5 137.3L385.3 136.5L383.3 134.9L379.6 133.4Z M389.3 130.9L394.1 130.2L400.7 130.7L399.7 131.9L392.4 131.9Z M446.5 147.6L449.9 149.6L454.1 149.8L457.3 149.6L455.1 147.6L451.6 145.1L452.0 143.0L454.2 141.3L456.8 139.5L461.8 137.9L467.1 137.3L465.2 136.5L460.1 137.7L454.4 138.3L450.9 139.9L449.4 142.6L448.2 144.7L446.3 146.3Z M429.7 130.2L436.2 129.3L444.3 128.8L450.5 129.5L445.8 130.7L437.4 131.1Z M501.5 132.3L501.9 129.8L512.1 132.1L517.6 134.0L510.2 134.0L505.3 133.0Z M575.1 139.7L576.7 138.3L586.4 139.5L595.1 140.1L595.2 141.1L585.2 140.7L579.6 141.1Z M584.8 143.8L590.4 143.6L591.3 144.4L586.8 144.4Z M654.3 148.3L655.8 147.8L658.0 149.1L656.4 149.4Z M639.3 187.9L644.5 192.4L648.7 197.4L654.8 201.5L653.2 204.0L656.3 206.8L655.9 208.9L654.5 208.6L651.8 204.3L648.4 199.9L643.3 194.4L639.7 189.9Z M655.4 210.1L660.8 213.2L664.5 213.2L666.9 215.8L664.3 216.8L664.3 219.2L660.2 217.6L658.8 220.5L656.2 217.4L656.1 215.5L658.2 215.3L656.0 211.7Z M660.1 220.5L662.6 222.5L665.4 225.4L666.2 228.8L666.2 230.8L668.0 234.8L667.5 236.8L666.0 236.1L665.5 238.1L663.9 238.4L661.3 238.4L661.2 239.2L660.4 241.3L658.2 240.2L657.6 238.4L653.9 238.9L651.6 240.2L648.7 240.0L648.3 238.7L650.5 236.3L653.7 236.1L657.7 235.8L658.0 232.9L658.3 230.8L659.3 232.4L661.0 231.1L661.8 229.0L661.0 225.1L659.4 222.8L659.3 221.2Z M648.8 240.2L650.9 241.0L652.3 243.4L652.0 247.0L651.1 247.6L649.8 246.5L648.7 243.6L647.1 242.6L647.3 241.3Z M652.4 241.0L654.8 239.1L656.9 239.7L656.6 241.5L655.0 243.1L653.4 242.8Z M389.5 229.8L391.3 229.0L396.2 228.9L395.5 231.4L395.4 232.9L393.6 232.5L389.9 230.6Z M380.1 222.0L382.2 221.1L383.4 223.0L383.2 226.4L382.0 226.9L380.7 226.7L380.6 223.6Z M380.8 218.1L382.4 216.6L382.7 218.9L382.2 220.7L381.1 219.9Z M413.9 235.9L415.5 236.4L418.6 236.4L419.9 236.8L418.5 237.5L416.5 237.5L414.0 236.7Z M433.0 237.2L434.4 236.4L437.7 235.7L436.7 237.4L434.7 238.4Z M412.3 227.1L414.6 228.2L415.5 229.5L414.5 229.0L412.8 227.7Z M384.0 184.5L386.2 183.5L386.9 184.7L386.1 186.2L384.3 185.7Z M381.6 185.0L383.3 185.0L383.4 186.1L382.0 185.9Z M396.9 180.5L398.5 179.1L398.3 180.5L397.4 181.4Z M403.7 177.9L405.7 177.4L405.7 178.4L404.2 178.8Z M443.7 153.1L445.3 152.2L447.2 153.3L445.3 153.9Z M459.8 151.1L460.8 150.0L463.1 151.1L461.8 151.7Z M473.3 144.0L476.2 143.6L476.1 144.7Z M475.7 260.4L476.2 260.4L476.1 261.3Z M619.4 387.6L620.8 385.8L624.1 383.7L627.2 382.6L630.5 381.8L634.1 381.1L637.4 380.0L640.9 376.1L641.0 373.7L644.1 374.3L644.5 371.9L648.6 369.3L651.1 365.9L654.4 365.4L655.7 367.7L658.9 367.7L658.8 365.4L661.0 362.8L662.5 361.2L665.1 360.7L667.0 358.6L668.9 359.6L672.7 360.7L676.4 360.2L674.1 363.5L672.4 367.7L674.9 370.3L679.4 373.0L681.3 375.0L683.5 374.3L686.3 368.0L687.1 362.5L688.9 357.5L689.9 356.8L691.5 362.2L691.5 366.4L694.8 367.7L694.9 373.0L695.0 378.2L697.9 379.5L700.4 383.7L703.0 387.8L702.9 390.2L705.8 396.5L705.4 400.4L704.2 404.3L700.6 409.8L697.9 413.4L693.4 417.4L688.2 422.8L685.4 426.8L681.2 427.8L675.3 430.9L673.2 428.6L669.8 430.1L666.1 429.1L664.3 428.1L665.0 422.8L662.5 421.8L664.4 419.5L665.0 415.3L660.9 420.0L658.8 419.5L658.3 417.1L657.3 414.2L654.3 412.4L651.8 411.1L646.7 411.6L640.0 413.2L634.6 415.0L632.8 417.4L629.1 417.4L624.6 417.6L619.4 420.5L616.4 420.2L613.6 418.4L616.1 415.8L617.6 411.6L617.5 407.2L617.8 403.3L617.5 400.1L616.8 396.7L618.5 397.0L617.7 392.5Z M669.4 435.1L672.6 436.1L676.7 435.6L674.5 439.0L671.9 441.5L668.9 442.6L667.4 440.8L668.7 437.9Z M739.4 418.7L740.8 420.8L740.2 424.9L742.6 424.4L741.4 427.0L743.3 428.1L746.6 427.3L742.6 431.2L740.3 431.7L738.4 434.0L732.5 437.4L731.8 436.6L735.2 433.5L734.4 432.5L733.5 431.7L736.5 429.9L738.9 426.5L739.5 423.9L739.0 420.8Z M729.1 434.6L731.2 436.4L728.3 439.0L723.7 441.8L722.9 443.3L718.5 444.4L713.9 448.5L709.5 450.3L707.5 450.3L705.0 449.2L707.9 446.4L712.7 443.9L719.5 441.0L723.8 437.9L727.1 435.6Z M665.1 330.9L668.3 329.8L672.0 330.9L672.3 335.1L674.1 337.4L677.2 334.8L680.9 332.7L685.3 334.8L688.0 335.6L691.8 337.4L695.9 339.0L698.8 341.9L702.5 344.5L703.1 346.3L701.2 346.6L703.7 350.0L706.9 354.7L708.7 356.5L706.7 356.2L702.5 355.2L698.6 350.0L695.7 348.7L693.8 349.7L692.2 352.3L689.4 352.8L686.9 352.6L684.4 350.0L680.2 350.7L682.5 347.6L682.0 344.5L680.7 342.9L676.2 340.6L671.9 339.0L669.1 339.5L669.0 336.6L667.0 336.1L671.0 334.5L668.0 334.5L664.8 332.5Z M704.4 343.4L708.9 341.9L712.0 339.8L713.8 340.0L712.7 343.2L710.1 344.7L706.6 345.3Z M710.4 335.6L713.7 337.7L715.7 340.6L714.7 340.8L712.6 337.4Z M719.0 342.4L720.9 344.7L721.7 346.6L720.1 345.8Z M723.1 346.3L725.3 347.9L725.0 348.4Z M729.6 353.1L731.4 353.4L732.2 354.4L729.9 354.4Z M732.2 350.5L733.5 353.1L732.8 353.4Z M733.2 355.4L735.4 356.5L734.2 357.0Z M727.1 348.4L730.3 350.7L729.8 351.0Z M743.5 367.2L744.5 369.3L743.5 369.6Z M744.2 370.6L745.4 371.6L744.3 372.2Z M745.6 374.8L746.1 375.3L745.4 375.3Z M184.7 280.9L185.7 280.5L188.0 280.7L189.4 281.8L187.8 282.2L185.8 282.2Z M199.6 281.6L200.3 282.8L202.5 281.3L203.9 280.7L206.6 281.3L207.4 280.2L206.1 278.9L204.2 277.6L201.8 276.8L200.1 277.3Z M220.6 300.8L222.7 300.6L222.6 302.4L220.6 302.5Z M609.5 278.6L611.2 276.5L613.4 276.4L614.5 277.6L613.6 279.9L611.7 281.3L609.7 280.2Z M546.1 303.7L547.3 303.5L549.5 306.6L551.1 309.7L550.7 312.1L548.4 313.3L547.0 312.6L546.3 308.9L546.5 306.6Z M766.3 374.5L768.9 374.3L769.2 375.8L767.2 376.6L766.0 375.8Z M770.0 372.4L773.3 371.1L772.8 372.2L770.5 373.2Z M582.3 314.2L587.4 315.2L589.4 317.8L593.2 321.2L594.4 323.1L597.2 323.3L600.4 326.7L601.6 329.8L603.9 332.2L604.8 334.8L607.2 336.4L606.9 340.0L606.7 344.0L605.1 344.2L603.7 343.2L600.8 341.3L598.6 339.3L596.6 336.1L594.6 332.7L593.5 330.1L591.7 328.3L590.5 324.4L588.1 322.0L585.7 319.1L582.9 316.3Z M605.0 346.6L607.2 344.2L609.2 344.3L612.6 346.0L616.9 346.8L618.1 345.5L622.0 346.8L622.8 348.7L626.2 348.9L625.8 351.5L622.0 350.7L617.4 350.2L612.9 348.9L607.9 348.1Z M622.2 347.1L625.4 346.8L624.9 347.6L622.4 347.6Z M605.5 333.5L607.6 333.0L608.8 336.6L606.8 335.6Z M611.0 335.6L612.6 336.1L611.6 337.2Z M614.3 324.9L615.8 323.6L619.3 324.9L619.7 321.7L623.4 320.4L625.5 316.8L628.9 314.4L631.4 310.8L633.8 312.1L633.7 313.6L637.4 315.0L635.0 317.3L634.4 319.1L634.1 323.1L637.1 326.2L634.6 326.7L633.9 330.6L631.6 333.0L631.0 336.6L630.2 338.7L627.2 339.5L626.8 337.7L623.4 337.2L620.6 337.7L616.9 336.4L616.8 332.7L614.5 330.1L614.3 328.0Z M639.2 326.7L641.5 325.4L646.4 326.3L650.0 326.2L651.6 324.6L650.1 327.8L647.3 328.0L643.1 327.5L639.9 328.5L639.7 330.9L642.2 331.2L644.7 331.2L647.3 330.9L647.5 331.4L644.2 333.0L643.1 333.8L645.3 337.2L646.8 339.8L646.2 342.9L644.4 341.3L642.8 340.8L643.1 339.3L641.5 337.9L640.5 336.4L640.3 340.8L639.9 343.2L638.1 343.2L638.2 339.8L638.3 337.9L636.8 336.1L637.8 334.0L638.0 331.9L639.2 329.1Z M657.1 323.1L658.1 325.1L659.7 324.9L658.6 327.2L659.8 328.0L657.9 328.8L658.8 330.9L657.7 329.8L657.0 326.2Z M657.7 336.9L661.5 336.1L664.4 337.7L662.5 338.2L658.4 337.9Z M653.3 337.2L655.7 337.0L656.1 338.2L654.4 338.9L653.3 337.9Z M626.2 350.0L628.7 350.2L627.6 351.8Z M629.3 350.7L631.0 350.5L630.6 352.1L629.2 351.8Z M631.4 351.0L634.2 350.2L636.7 351.0L636.1 351.8L633.6 352.1L631.3 352.3Z M638.5 350.7L642.2 351.0L645.7 350.5L645.1 351.5L640.9 352.2L638.4 351.8Z M636.2 353.6L638.5 353.4L640.2 354.9L638.3 355.7L636.2 354.4Z M646.4 355.7L647.7 353.4L650.2 352.1L650.2 353.6L648.5 355.2Z M650.2 352.1L650.4 351.3L655.5 350.7L654.5 351.8L650.2 353.6Z M648.9 350.2L650.5 350.2L649.3 350.9Z M652.5 348.9L654.5 348.9L653.3 349.6Z M664.5 348.4L665.9 347.6L665.5 349.7Z M671.6 344.5L673.3 343.4L672.7 346.6L671.7 346.6Z M668.7 342.9L669.4 342.9L668.9 344.2Z M675.7 330.9L677.3 331.4L676.3 331.9Z M658.5 322.5L659.4 322.5L659.2 323.6Z M649.8 333.2L653.5 333.5L652.1 333.9Z M656.7 332.5L658.1 332.7L657.4 333.2Z M662.0 333.5L663.6 333.8L662.7 334.2Z M663.5 329.1L665.5 329.3L664.4 329.7Z M636.8 280.5L639.9 281.0L641.2 283.6L641.4 286.2L640.1 288.0L641.1 291.4L643.1 291.7L644.9 292.7L647.1 295.9L646.6 295.1L644.4 294.1L642.6 292.5L640.8 293.0L638.9 292.5L638.5 290.9L637.2 290.1L636.2 286.5L637.2 285.4L636.8 282.8Z M638.4 293.8L640.2 293.8L641.1 295.9L640.4 296.9L639.5 295.6Z M632.3 306.9L634.9 304.5L636.7 301.9L637.4 299.3L636.4 301.1L634.6 303.2L632.4 305.5Z M642.3 297.7L645.1 298.8L644.3 301.4L642.9 301.4Z M644.8 300.3L646.2 300.6L646.2 305.0L644.8 304.2L643.9 302.9Z M646.3 304.0L647.3 299.5L646.8 301.9Z M647.2 303.2L648.7 302.4L648.8 303.5Z M647.9 299.0L649.6 299.3L650.3 302.2L649.4 302.7L648.8 300.6Z M647.6 296.1L649.9 296.4L651.2 299.5L649.6 299.3L649.0 298.2Z M645.3 296.4L647.0 296.9L646.2 297.6Z M643.6 310.5L645.3 308.2L646.5 306.3L649.5 306.3L650.9 303.5L653.1 305.5L653.9 309.7L653.4 312.3L651.7 311.0L652.3 314.2L651.2 314.2L648.8 312.1L648.2 309.7L646.7 309.2L644.7 310.3Z M643.2 311.6L644.4 311.6L643.7 312.1Z M641.2 313.1L642.4 313.1L641.7 313.5Z" fill="none"/>
<path d="M198.4 300.3L199.5 301.6L199.6 303.7L198.2 305.0L197.1 303.5L197.7 301.4Z M424.3 221.2L421.7 219.2L420.5 217.9L421.1 216.1L422.3 214.5L422.4 213.5L424.1 210.9L424.9 209.1L425.8 207.6L427.3 207.3L428.5 208.6L431.6 208.6L429.8 210.5L432.2 212.5L433.3 213.0L436.0 211.4L438.0 210.7L435.6 210.4L434.6 208.4L435.1 207.3L438.0 206.8L439.5 206.0L441.5 205.8L442.3 205.7L443.0 206.3L440.9 207.1L440.5 208.9L441.1 210.1L439.7 210.5L438.7 210.4L438.6 211.0L440.0 212.2L441.1 212.2L443.8 213.7L445.5 215.0L447.0 216.3L448.6 216.8L450.0 218.4L450.5 220.1L449.4 221.0L447.4 221.7L446.7 221.7L444.0 222.0L441.0 221.2L439.4 221.0L436.4 219.0L432.8 219.2L430.8 219.8L429.1 221.2L426.8 221.2Z M419.4 223.2L421.0 221.9L423.9 221.7L426.1 222.4L424.3 223.3L421.8 223.4Z M469.1 230.8L471.1 231.1L474.0 232.9L477.2 232.7L479.0 231.1L478.0 227.2L475.9 226.2L475.5 224.3L474.4 222.5L474.2 219.7L472.8 218.4L470.0 216.1L469.5 214.9L467.2 213.2L468.9 212.5L468.2 211.4L472.2 210.7L471.8 207.6L469.0 206.3L467.3 206.0L464.2 207.6L462.9 209.1L461.6 209.6L461.0 211.4L459.7 213.0L461.5 214.8L462.2 216.6L464.4 219.2L466.5 221.0L469.5 223.3L467.9 223.8L468.0 226.2L467.6 228.5Z" fill="#fff"/>
</g>
</svg>
<div id="title" class="abs">Dengue fever deaths, 2021</div>
<div id="sub" class="abs">Estimated annual number of deaths from dengue fever. Dengue is a debilitating disease of joint pain that is<br>caused by the dengue virus and spread by bites from infected mosquitoes.</div>
<div id="logo" class="abs"><span style="margin-top:5px">Our World</span><span>in Data</span></div>
<svg class="abs" style="left:0;top:500px" width="850" height="60" viewBox="0 500 850 60">
<defs><pattern id="hatch2" patternUnits="userSpaceOnUse" width="3.4" height="3.4" patternTransform="rotate(45)"><rect width="3.4" height="3.4" fill="#fff"/><line x1="0.8" y1="0" x2="0.8" y2="3.4" stroke="#e4e4e4" stroke-width="1.4"/></pattern></defs>
<rect x="126.5" y="537.5" width="48" height="11" fill="url(#hatch2)" stroke="#bbb" stroke-width="0.7"/>
<g stroke="#ccc" stroke-width="0.5">
<rect x="194.3" y="537.5" width="66.2" height="11" fill="#e4e9e0"/>
<rect x="260.5" y="537.5" width="66.2" height="11" fill="#ffeda0"/>
<rect x="326.7" y="537.5" width="66.2" height="11" fill="#fed976"/>
<rect x="392.9" y="537.5" width="66.2" height="11" fill="#feb24c"/>
<rect x="459.1" y="537.5" width="66.2" height="11" fill="#fd8d3c"/>
<rect x="525.3" y="537.5" width="66.2" height="11" fill="#fc4e2a"/>
<rect x="591.5" y="537.5" width="66.2" height="11" fill="#e31a1c"/>
<rect x="657.7" y="537.5" width="66.2" height="11" fill="#b10026"/>
</g>
<g stroke="#6e6e6e" stroke-width="0.5">
<line x1="150.5" y1="534.5" x2="150.5" y2="537.5"/><line x1="227.4" y1="534.5" x2="227.4" y2="537.5"/>
<line x1="326.7" y1="534.5" x2="326.7" y2="548.5"/><line x1="392.9" y1="534.5" x2="392.9" y2="548.5"/><line x1="459.1" y1="534.5" x2="459.1" y2="548.5"/><line x1="525.3" y1="534.5" x2="525.3" y2="548.5"/><line x1="591.5" y1="534.5" x2="591.5" y2="548.5"/><line x1="657.7" y1="534.5" x2="657.7" y2="548.5"/><line x1="723.9" y1="534.5" x2="723.9" y2="548.5"/>
</g>
</svg>
<div class="abs lg" style="left:150.5px">No data</div>
<div class="abs lg" style="left:227.4px">No deaths</div>
<div class="abs lg" style="left:326.7px">30</div>
<div class="abs lg" style="left:392.9px">100</div>
<div class="abs lg" style="left:459.1px">300</div>
<div class="abs lg" style="left:525.3px">1,000</div>
<div class="abs lg" style="left:591.5px">3,000</div>
<div class="abs lg" style="left:657.7px">10,000</div>
<div class="abs lg" style="left:723.9px">30,000</div>
<div id="src" class="abs"><b>Data source:</b> World Health Organization (2024)</div>
<div id="url" class="abs">OurWorldinData.org/causes-of-death | CC BY</div>
</body></html>
